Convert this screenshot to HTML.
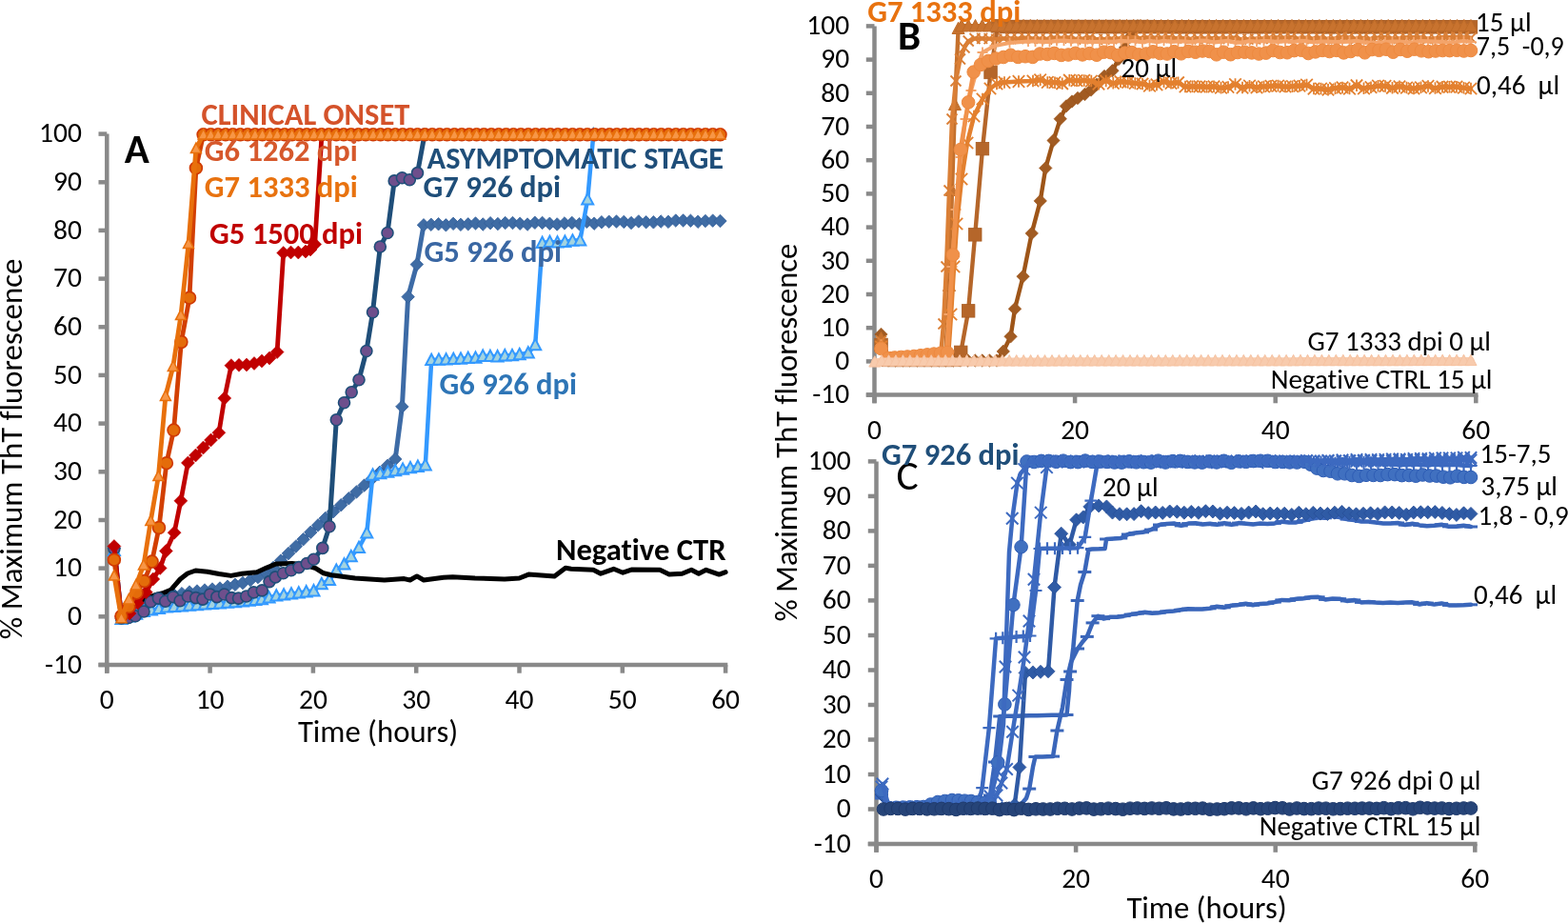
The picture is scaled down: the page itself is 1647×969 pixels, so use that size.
<!DOCTYPE html>
<html><head><meta charset="utf-8"><title>ThT fluorescence</title><style>html,body{margin:0;padding:0;background:#fff;overflow:hidden}svg{display:block}text{font-variant-ligatures:none;font-feature-settings:"liga" 0,"clig" 0}</style></head><body>
<svg width="1647" height="969" viewBox="0 0 1647 969" font-family="Carlito, 'Liberation Sans', Arial, sans-serif">
<rect width="1647" height="969" fill="#fff"/>
<line x1="112.3" y1="140.6" x2="112.3" y2="706.7" stroke="#898989" stroke-width="4.5"/>
<line x1="103.5" y1="698" x2="764.3" y2="698" stroke="#898989" stroke-width="4.5"/>
<line x1="103.5" y1="698" x2="112.3" y2="698" stroke="#898989" stroke-width="4.5"/>
<line x1="103.5" y1="647.3" x2="112.3" y2="647.3" stroke="#898989" stroke-width="4.5"/>
<line x1="103.5" y1="596.6" x2="112.3" y2="596.6" stroke="#898989" stroke-width="4.5"/>
<line x1="103.5" y1="546" x2="112.3" y2="546" stroke="#898989" stroke-width="4.5"/>
<line x1="103.5" y1="495.3" x2="112.3" y2="495.3" stroke="#898989" stroke-width="4.5"/>
<line x1="103.5" y1="444.6" x2="112.3" y2="444.6" stroke="#898989" stroke-width="4.5"/>
<line x1="103.5" y1="393.9" x2="112.3" y2="393.9" stroke="#898989" stroke-width="4.5"/>
<line x1="103.5" y1="343.3" x2="112.3" y2="343.3" stroke="#898989" stroke-width="4.5"/>
<line x1="103.5" y1="292.6" x2="112.3" y2="292.6" stroke="#898989" stroke-width="4.5"/>
<line x1="103.5" y1="241.9" x2="112.3" y2="241.9" stroke="#898989" stroke-width="4.5"/>
<line x1="103.5" y1="191.3" x2="112.3" y2="191.3" stroke="#898989" stroke-width="4.5"/>
<line x1="103.5" y1="140.6" x2="112.3" y2="140.6" stroke="#898989" stroke-width="4.5"/>
<line x1="112.3" y1="698" x2="112.3" y2="706.7" stroke="#898989" stroke-width="4.5"/>
<line x1="220.6" y1="698" x2="220.6" y2="706.7" stroke="#898989" stroke-width="4.5"/>
<line x1="328.9" y1="698" x2="328.9" y2="706.7" stroke="#898989" stroke-width="4.5"/>
<line x1="437.2" y1="698" x2="437.2" y2="706.7" stroke="#898989" stroke-width="4.5"/>
<line x1="545.5" y1="698" x2="545.5" y2="706.7" stroke="#898989" stroke-width="4.5"/>
<line x1="653.8" y1="698" x2="653.8" y2="706.7" stroke="#898989" stroke-width="4.5"/>
<line x1="762.1" y1="698" x2="762.1" y2="706.7" stroke="#898989" stroke-width="4.5"/>
<text textLength="38.94" lengthAdjust="spacingAndGlyphs" x="85.9" y="706.8" font-size="29.5" font-weight="normal" fill="#000" text-anchor="end" >-10</text>
<text textLength="14.95" lengthAdjust="spacingAndGlyphs" x="85.9" y="656.1" font-size="29.5" font-weight="normal" fill="#000" text-anchor="end" >0</text>
<text textLength="29.91" lengthAdjust="spacingAndGlyphs" x="85.9" y="605.4" font-size="29.5" font-weight="normal" fill="#000" text-anchor="end" >10</text>
<text textLength="29.91" lengthAdjust="spacingAndGlyphs" x="85.9" y="554.8" font-size="29.5" font-weight="normal" fill="#000" text-anchor="end" >20</text>
<text textLength="29.91" lengthAdjust="spacingAndGlyphs" x="85.9" y="504.1" font-size="29.5" font-weight="normal" fill="#000" text-anchor="end" >30</text>
<text textLength="29.91" lengthAdjust="spacingAndGlyphs" x="85.9" y="453.4" font-size="29.5" font-weight="normal" fill="#000" text-anchor="end" >40</text>
<text textLength="29.91" lengthAdjust="spacingAndGlyphs" x="85.9" y="402.7" font-size="29.5" font-weight="normal" fill="#000" text-anchor="end" >50</text>
<text textLength="29.91" lengthAdjust="spacingAndGlyphs" x="85.9" y="352.1" font-size="29.5" font-weight="normal" fill="#000" text-anchor="end" >60</text>
<text textLength="29.91" lengthAdjust="spacingAndGlyphs" x="85.9" y="301.4" font-size="29.5" font-weight="normal" fill="#000" text-anchor="end" >70</text>
<text textLength="29.91" lengthAdjust="spacingAndGlyphs" x="85.9" y="250.7" font-size="29.5" font-weight="normal" fill="#000" text-anchor="end" >80</text>
<text textLength="29.91" lengthAdjust="spacingAndGlyphs" x="85.9" y="200.1" font-size="29.5" font-weight="normal" fill="#000" text-anchor="end" >90</text>
<text textLength="44.86" lengthAdjust="spacingAndGlyphs" x="85.9" y="149.4" font-size="29.5" font-weight="normal" fill="#000" text-anchor="end" >100</text>
<text textLength="14.95" lengthAdjust="spacingAndGlyphs" x="112.3" y="743.8" font-size="29.5" font-weight="normal" fill="#000" text-anchor="middle" >0</text>
<text textLength="29.91" lengthAdjust="spacingAndGlyphs" x="220.6" y="743.8" font-size="29.5" font-weight="normal" fill="#000" text-anchor="middle" >10</text>
<text textLength="29.91" lengthAdjust="spacingAndGlyphs" x="328.9" y="743.8" font-size="29.5" font-weight="normal" fill="#000" text-anchor="middle" >20</text>
<text textLength="29.91" lengthAdjust="spacingAndGlyphs" x="437.2" y="743.8" font-size="29.5" font-weight="normal" fill="#000" text-anchor="middle" >30</text>
<text textLength="29.91" lengthAdjust="spacingAndGlyphs" x="545.5" y="743.8" font-size="29.5" font-weight="normal" fill="#000" text-anchor="middle" >40</text>
<text textLength="29.91" lengthAdjust="spacingAndGlyphs" x="653.8" y="743.8" font-size="29.5" font-weight="normal" fill="#000" text-anchor="middle" >50</text>
<text textLength="29.91" lengthAdjust="spacingAndGlyphs" x="762.1" y="743.8" font-size="29.5" font-weight="normal" fill="#000" text-anchor="middle" >60</text>
<line x1="918.5" y1="27.4" x2="918.5" y2="423.3" stroke="#898989" stroke-width="4.5"/>
<line x1="909.8" y1="414.6" x2="1552.5" y2="414.6" stroke="#898989" stroke-width="4.5"/>
<line x1="909.8" y1="414.6" x2="918.5" y2="414.6" stroke="#898989" stroke-width="4.5"/>
<line x1="909.8" y1="379.4" x2="918.5" y2="379.4" stroke="#898989" stroke-width="4.5"/>
<line x1="909.8" y1="344.2" x2="918.5" y2="344.2" stroke="#898989" stroke-width="4.5"/>
<line x1="909.8" y1="309" x2="918.5" y2="309" stroke="#898989" stroke-width="4.5"/>
<line x1="909.8" y1="273.8" x2="918.5" y2="273.8" stroke="#898989" stroke-width="4.5"/>
<line x1="909.8" y1="238.6" x2="918.5" y2="238.6" stroke="#898989" stroke-width="4.5"/>
<line x1="909.8" y1="203.4" x2="918.5" y2="203.4" stroke="#898989" stroke-width="4.5"/>
<line x1="909.8" y1="168.2" x2="918.5" y2="168.2" stroke="#898989" stroke-width="4.5"/>
<line x1="909.8" y1="133" x2="918.5" y2="133" stroke="#898989" stroke-width="4.5"/>
<line x1="909.8" y1="97.8" x2="918.5" y2="97.8" stroke="#898989" stroke-width="4.5"/>
<line x1="909.8" y1="62.6" x2="918.5" y2="62.6" stroke="#898989" stroke-width="4.5"/>
<line x1="909.8" y1="27.4" x2="918.5" y2="27.4" stroke="#898989" stroke-width="4.5"/>
<line x1="918.5" y1="414.6" x2="918.5" y2="423.3" stroke="#898989" stroke-width="4.5"/>
<line x1="1129.1" y1="414.6" x2="1129.1" y2="423.3" stroke="#898989" stroke-width="4.5"/>
<line x1="1339.7" y1="414.6" x2="1339.7" y2="423.3" stroke="#898989" stroke-width="4.5"/>
<line x1="1550.3" y1="414.6" x2="1550.3" y2="423.3" stroke="#898989" stroke-width="4.5"/>
<text textLength="38.94" lengthAdjust="spacingAndGlyphs" x="892.2" y="423.4" font-size="29.5" font-weight="normal" fill="#000" text-anchor="end" >-10</text>
<text textLength="14.95" lengthAdjust="spacingAndGlyphs" x="892.2" y="388.2" font-size="29.5" font-weight="normal" fill="#000" text-anchor="end" >0</text>
<text textLength="29.91" lengthAdjust="spacingAndGlyphs" x="892.2" y="353" font-size="29.5" font-weight="normal" fill="#000" text-anchor="end" >10</text>
<text textLength="29.91" lengthAdjust="spacingAndGlyphs" x="892.2" y="317.8" font-size="29.5" font-weight="normal" fill="#000" text-anchor="end" >20</text>
<text textLength="29.91" lengthAdjust="spacingAndGlyphs" x="892.2" y="282.6" font-size="29.5" font-weight="normal" fill="#000" text-anchor="end" >30</text>
<text textLength="29.91" lengthAdjust="spacingAndGlyphs" x="892.2" y="247.4" font-size="29.5" font-weight="normal" fill="#000" text-anchor="end" >40</text>
<text textLength="29.91" lengthAdjust="spacingAndGlyphs" x="892.2" y="212.2" font-size="29.5" font-weight="normal" fill="#000" text-anchor="end" >50</text>
<text textLength="29.91" lengthAdjust="spacingAndGlyphs" x="892.2" y="177" font-size="29.5" font-weight="normal" fill="#000" text-anchor="end" >60</text>
<text textLength="29.91" lengthAdjust="spacingAndGlyphs" x="892.2" y="141.8" font-size="29.5" font-weight="normal" fill="#000" text-anchor="end" >70</text>
<text textLength="29.91" lengthAdjust="spacingAndGlyphs" x="892.2" y="106.6" font-size="29.5" font-weight="normal" fill="#000" text-anchor="end" >80</text>
<text textLength="29.91" lengthAdjust="spacingAndGlyphs" x="892.2" y="71.4" font-size="29.5" font-weight="normal" fill="#000" text-anchor="end" >90</text>
<text textLength="44.86" lengthAdjust="spacingAndGlyphs" x="892.2" y="36.2" font-size="29.5" font-weight="normal" fill="#000" text-anchor="end" >100</text>
<text textLength="14.95" lengthAdjust="spacingAndGlyphs" x="918.5" y="460.5" font-size="29.5" font-weight="normal" fill="#000" text-anchor="middle" >0</text>
<text textLength="29.91" lengthAdjust="spacingAndGlyphs" x="1129.1" y="460.5" font-size="29.5" font-weight="normal" fill="#000" text-anchor="middle" >20</text>
<text textLength="29.91" lengthAdjust="spacingAndGlyphs" x="1339.7" y="460.5" font-size="29.5" font-weight="normal" fill="#000" text-anchor="middle" >40</text>
<text textLength="29.91" lengthAdjust="spacingAndGlyphs" x="1550.3" y="460.5" font-size="29.5" font-weight="normal" fill="#000" text-anchor="middle" >60</text>
<line x1="920.5" y1="484.4" x2="920.5" y2="894.8" stroke="#898989" stroke-width="4.5"/>
<line x1="911.8" y1="886" x2="1551.6" y2="886" stroke="#898989" stroke-width="4.5"/>
<line x1="911.8" y1="886" x2="920.5" y2="886" stroke="#898989" stroke-width="4.5"/>
<line x1="911.8" y1="849.5" x2="920.5" y2="849.5" stroke="#898989" stroke-width="4.5"/>
<line x1="911.8" y1="813" x2="920.5" y2="813" stroke="#898989" stroke-width="4.5"/>
<line x1="911.8" y1="776.5" x2="920.5" y2="776.5" stroke="#898989" stroke-width="4.5"/>
<line x1="911.8" y1="740" x2="920.5" y2="740" stroke="#898989" stroke-width="4.5"/>
<line x1="911.8" y1="703.5" x2="920.5" y2="703.5" stroke="#898989" stroke-width="4.5"/>
<line x1="911.8" y1="667" x2="920.5" y2="667" stroke="#898989" stroke-width="4.5"/>
<line x1="911.8" y1="630.4" x2="920.5" y2="630.4" stroke="#898989" stroke-width="4.5"/>
<line x1="911.8" y1="593.9" x2="920.5" y2="593.9" stroke="#898989" stroke-width="4.5"/>
<line x1="911.8" y1="557.4" x2="920.5" y2="557.4" stroke="#898989" stroke-width="4.5"/>
<line x1="911.8" y1="520.9" x2="920.5" y2="520.9" stroke="#898989" stroke-width="4.5"/>
<line x1="911.8" y1="484.4" x2="920.5" y2="484.4" stroke="#898989" stroke-width="4.5"/>
<line x1="920.5" y1="886" x2="920.5" y2="894.8" stroke="#898989" stroke-width="4.5"/>
<line x1="1130.1" y1="886" x2="1130.1" y2="894.8" stroke="#898989" stroke-width="4.5"/>
<line x1="1339.7" y1="886" x2="1339.7" y2="894.8" stroke="#898989" stroke-width="4.5"/>
<line x1="1549.3" y1="886" x2="1549.3" y2="894.8" stroke="#898989" stroke-width="4.5"/>
<text textLength="38.94" lengthAdjust="spacingAndGlyphs" x="893.7" y="894.8" font-size="29.5" font-weight="normal" fill="#000" text-anchor="end" >-10</text>
<text textLength="14.95" lengthAdjust="spacingAndGlyphs" x="893.7" y="858.3" font-size="29.5" font-weight="normal" fill="#000" text-anchor="end" >0</text>
<text textLength="29.91" lengthAdjust="spacingAndGlyphs" x="893.7" y="821.8" font-size="29.5" font-weight="normal" fill="#000" text-anchor="end" >10</text>
<text textLength="29.91" lengthAdjust="spacingAndGlyphs" x="893.7" y="785.3" font-size="29.5" font-weight="normal" fill="#000" text-anchor="end" >20</text>
<text textLength="29.91" lengthAdjust="spacingAndGlyphs" x="893.7" y="748.8" font-size="29.5" font-weight="normal" fill="#000" text-anchor="end" >30</text>
<text textLength="29.91" lengthAdjust="spacingAndGlyphs" x="893.7" y="712.3" font-size="29.5" font-weight="normal" fill="#000" text-anchor="end" >40</text>
<text textLength="29.91" lengthAdjust="spacingAndGlyphs" x="893.7" y="675.8" font-size="29.5" font-weight="normal" fill="#000" text-anchor="end" >50</text>
<text textLength="29.91" lengthAdjust="spacingAndGlyphs" x="893.7" y="639.2" font-size="29.5" font-weight="normal" fill="#000" text-anchor="end" >60</text>
<text textLength="29.91" lengthAdjust="spacingAndGlyphs" x="893.7" y="602.7" font-size="29.5" font-weight="normal" fill="#000" text-anchor="end" >70</text>
<text textLength="29.91" lengthAdjust="spacingAndGlyphs" x="893.7" y="566.2" font-size="29.5" font-weight="normal" fill="#000" text-anchor="end" >80</text>
<text textLength="29.91" lengthAdjust="spacingAndGlyphs" x="893.7" y="529.7" font-size="29.5" font-weight="normal" fill="#000" text-anchor="end" >90</text>
<text textLength="44.86" lengthAdjust="spacingAndGlyphs" x="893.7" y="493.2" font-size="29.5" font-weight="normal" fill="#000" text-anchor="end" >100</text>
<text textLength="14.95" lengthAdjust="spacingAndGlyphs" x="920.5" y="931.6" font-size="29.5" font-weight="normal" fill="#000" text-anchor="middle" >0</text>
<text textLength="29.91" lengthAdjust="spacingAndGlyphs" x="1130.1" y="931.6" font-size="29.5" font-weight="normal" fill="#000" text-anchor="middle" >20</text>
<text textLength="29.91" lengthAdjust="spacingAndGlyphs" x="1339.7" y="931.6" font-size="29.5" font-weight="normal" fill="#000" text-anchor="middle" >40</text>
<text textLength="29.91" lengthAdjust="spacingAndGlyphs" x="1549.3" y="931.6" font-size="29.5" font-weight="normal" fill="#000" text-anchor="middle" >60</text>
<polyline points="119.9,575.5 127.5,649 135,645 143,640.8 151,636.5 159,633.2 167,629.8 175,626.5 183,624.8 191,623.2 199,621.5 207,620.5 215,619.5 223,618.5 231,617.5 239,615.7 247,613.8 255,612 263,609 271,606 279,601 287,596 295,588.5 303,581 310.8,573.6 318.6,566.2 326.3,558.8 334.1,551.4 341.9,544 350,537.1 358.2,530.2 366.3,523.3 374.5,516.4 382.6,509.6 390.8,502.7 398.9,495.8 407.1,488.9 415.2,482 422.4,426.9 428.6,311.6 437.9,277.6 445,236.3 452.8,235.8 460.6,235.2 468.4,236.3 476.1,234.8 483.9,235.8 491.7,235.3 499.5,234.5 507.3,235.5 515.1,234.2 522.9,235.1 530.7,234.1 538.5,234 546.2,234.7 554,235.6 561.8,233.8 569.6,233.9 577.4,234.8 585.2,235.4 593,234.4 600.8,233.9 608.5,235.2 616.3,232.8 624.1,234.7 631.9,233.2 639.7,232.8 647.5,232.6 655.3,232.9 663,234 670.8,232.4 678.6,233.3 686.4,233.3 694.2,232.6 702,232.9 709.8,231.6 717.6,231.5 725.4,231.7 733.1,232.8 740.9,232 748.7,231.7 756.5,232" fill="none" stroke="#3D6BA6" stroke-width="5" stroke-linejoin="round" stroke-linecap="round" /><g fill="#3F6CA4" stroke="#335F9A" stroke-width="0.8" stroke-linejoin="miter"><path d="M119.9 568.8L126.7 575.5L119.9 582.2L113.2 575.5Z"/><path d="M127.5 642.2L134.2 649L127.5 655.8L120.8 649Z"/><path d="M135 638.2L141.8 645L135 651.8L128.2 645Z"/><path d="M143 634L149.8 640.8L143 647.5L136.2 640.8Z"/><path d="M151 629.8L157.8 636.5L151 643.2L144.2 636.5Z"/><path d="M159 626.4L165.8 633.2L159 639.9L152.2 633.2Z"/><path d="M167 623.1L173.8 629.8L167 636.6L160.2 629.8Z"/><path d="M175 619.8L181.8 626.5L175 633.2L168.2 626.5Z"/><path d="M183 618.1L189.8 624.8L183 631.6L176.2 624.8Z"/><path d="M191 616.4L197.8 623.2L191 629.9L184.2 623.2Z"/><path d="M199 614.8L205.8 621.5L199 628.2L192.2 621.5Z"/><path d="M207 613.8L213.8 620.5L207 627.2L200.2 620.5Z"/><path d="M215 612.8L221.8 619.5L215 626.2L208.2 619.5Z"/><path d="M223 611.8L229.8 618.5L223 625.2L216.2 618.5Z"/><path d="M231 610.8L237.8 617.5L231 624.2L224.2 617.5Z"/><path d="M239 608.9L245.8 615.7L239 622.4L232.2 615.7Z"/><path d="M247 607.1L253.8 613.8L247 620.6L240.2 613.8Z"/><path d="M255 605.2L261.8 612L255 618.8L248.2 612Z"/><path d="M263 602.2L269.8 609L263 615.8L256.2 609Z"/><path d="M271 599.2L277.8 606L271 612.8L264.2 606Z"/><path d="M279 594.2L285.8 601L279 607.8L272.2 601Z"/><path d="M287 589.2L293.8 596L287 602.8L280.2 596Z"/><path d="M295 581.8L301.8 588.5L295 595.2L288.2 588.5Z"/><path d="M303 574.2L309.8 581L303 587.8L296.2 581Z"/><path d="M310.8 566.9L317.5 573.6L310.8 580.4L304 573.6Z"/><path d="M318.6 559.5L325.3 566.2L318.6 573L311.8 566.2Z"/><path d="M326.3 552L333.1 558.8L326.3 565.5L319.6 558.8Z"/><path d="M334.1 544.6L340.9 551.4L334.1 558.1L327.4 551.4Z"/><path d="M341.9 537.2L348.6 544L341.9 550.8L335.1 544Z"/><path d="M350 530.4L356.8 537.1L350 543.9L343.3 537.1Z"/><path d="M358.2 523.5L364.9 530.2L358.2 537L351.4 530.2Z"/><path d="M366.3 516.6L373.1 523.3L366.3 530.1L359.6 523.3Z"/><path d="M374.5 509.7L381.2 516.4L374.5 523.2L367.7 516.4Z"/><path d="M382.6 502.8L389.4 509.6L382.6 516.3L375.9 509.6Z"/><path d="M390.8 495.9L397.5 502.7L390.8 509.4L384 502.7Z"/><path d="M398.9 489L405.7 495.8L398.9 502.5L392.2 495.8Z"/><path d="M407.1 482.1L413.8 488.9L407.1 495.6L400.3 488.9Z"/><path d="M415.2 475.2L421.9 482L415.2 488.8L408.4 482Z"/><path d="M422.4 420.1L429.1 426.9L422.4 433.6L415.6 426.9Z"/><path d="M428.6 304.9L435.4 311.6L428.6 318.4L421.9 311.6Z"/><path d="M437.9 270.9L444.6 277.6L437.9 284.4L431.1 277.6Z"/><path d="M445 229.6L451.8 236.3L445 243.1L438.2 236.3Z"/><path d="M452.8 229L459.5 235.8L452.8 242.5L446 235.8Z"/><path d="M460.6 228.5L467.3 235.2L460.6 242L453.8 235.2Z"/><path d="M468.4 229.6L475.1 236.3L468.4 243.1L461.6 236.3Z"/><path d="M476.1 228.1L482.9 234.8L476.1 241.6L469.4 234.8Z"/><path d="M483.9 229.1L490.7 235.8L483.9 242.6L477.2 235.8Z"/><path d="M491.7 228.6L498.5 235.3L491.7 242.1L485 235.3Z"/><path d="M499.5 227.7L506.3 234.5L499.5 241.2L492.8 234.5Z"/><path d="M507.3 228.7L514 235.5L507.3 242.2L500.6 235.5Z"/><path d="M515.1 227.5L521.8 234.2L515.1 241L508.3 234.2Z"/><path d="M522.9 228.3L529.6 235.1L522.9 241.8L516.1 235.1Z"/><path d="M530.7 227.3L537.4 234.1L530.7 240.8L523.9 234.1Z"/><path d="M538.5 227.3L545.2 234L538.5 240.8L531.7 234Z"/><path d="M546.2 228L553 234.7L546.2 241.5L539.5 234.7Z"/><path d="M554 228.8L560.8 235.6L554 242.3L547.3 235.6Z"/><path d="M561.8 227L568.6 233.8L561.8 240.5L555.1 233.8Z"/><path d="M569.6 227.2L576.4 233.9L569.6 240.7L562.9 233.9Z"/><path d="M577.4 228L584.1 234.8L577.4 241.5L570.6 234.8Z"/><path d="M585.2 228.7L591.9 235.4L585.2 242.2L578.4 235.4Z"/><path d="M593 227.7L599.7 234.4L593 241.2L586.2 234.4Z"/><path d="M600.8 227.2L607.5 233.9L600.8 240.7L594 233.9Z"/><path d="M608.5 228.4L615.3 235.2L608.5 241.9L601.8 235.2Z"/><path d="M616.3 226.1L623.1 232.8L616.3 239.6L609.6 232.8Z"/><path d="M624.1 227.9L630.9 234.7L624.1 241.4L617.4 234.7Z"/><path d="M631.9 226.5L638.6 233.2L631.9 240L625.1 233.2Z"/><path d="M639.7 226L646.4 232.8L639.7 239.5L632.9 232.8Z"/><path d="M647.5 225.8L654.2 232.6L647.5 239.3L640.7 232.6Z"/><path d="M655.3 226.2L662 232.9L655.3 239.7L648.5 232.9Z"/><path d="M663 227.3L669.8 234L663 240.8L656.3 234Z"/><path d="M670.8 225.7L677.6 232.4L670.8 239.2L664.1 232.4Z"/><path d="M678.6 226.5L685.4 233.3L678.6 240L671.9 233.3Z"/><path d="M686.4 226.6L693.2 233.3L686.4 240.1L679.7 233.3Z"/><path d="M694.2 225.8L701 232.6L694.2 239.3L687.5 232.6Z"/><path d="M702 226.1L708.7 232.9L702 239.6L695.2 232.9Z"/><path d="M709.8 224.8L716.5 231.6L709.8 238.3L703 231.6Z"/><path d="M717.6 224.7L724.3 231.5L717.6 238.2L710.8 231.5Z"/><path d="M725.4 225L732.1 231.7L725.4 238.5L718.6 231.7Z"/><path d="M733.1 226L739.9 232.8L733.1 239.5L726.4 232.8Z"/><path d="M740.9 225.3L747.7 232L740.9 238.8L734.2 232Z"/><path d="M748.7 224.9L755.5 231.7L748.7 238.4L742 231.7Z"/><path d="M756.5 225.2L763.2 232L756.5 238.8L749.8 232Z"/></g>
<polyline points="119.9,578 127.5,650 135.3,647.3 143.2,644.7 151,642 159,640.5 167,639 175,637.5 183,636.9 191,636.3 199,635.7 207,635.1 215,634.5 223,633.9 231,633.3 239,632.7 247,632.1 255,631.5 261.7,630.7 268.3,630 275,629.2 282.6,627.4 290.3,625.5 298.1,624.5 306,623.4 313.8,622.4 321.7,621.3 329.5,620.3 337.8,613.1 346,609 353.3,598.7 361.5,592.5 368.8,584.2 377,575 385.3,559.5 391.5,498.6 399.4,497.1 407.3,495.7 415.2,494.2 423.1,492.7 431,491.2 438.9,489.8 446.8,488.3 453.2,378 460.9,377.7 468.6,377.4 476.3,377 484,376.7 491.7,375.9 499.5,375.7 507.2,373.8 514.9,374 522.6,374.3 530.3,373.3 538,373.2 545.7,372.1 554.8,370.5 562.2,362.2 569.6,255 577.5,254 585.5,254.4 593.4,253.8 601.4,252.6 609.3,252.4 617.2,209.4 623.3,141.3 631.1,141.3 639,141.3 646.8,141.3 654.6,141.3 662.5,141.3 670.3,141.3 678.1,141.3 686,141.3 693.8,141.3 701.7,141.3 709.5,141.3 717.3,141.3 725.2,141.3 733,141.3 740.8,141.3 748.7,141.3 756.5,141.3" fill="none" stroke="#3399FF" stroke-width="4.5" stroke-linejoin="round" stroke-linecap="round" /><g fill="#A2D3E0" stroke="#3399FF" stroke-width="2" stroke-linejoin="miter"><path d="M119.9 571.7L125.9 583.1H113.9Z"/><path d="M127.5 643.7L133.5 655.1H121.5Z"/><path d="M135.3 641L141.3 652.4H129.3Z"/><path d="M143.2 638.4L149.2 649.8H137.2Z"/><path d="M151 635.7L157 647.1H145Z"/><path d="M159 634.2L165 645.6H153Z"/><path d="M167 632.7L173 644.1H161Z"/><path d="M175 631.2L181 642.6H169Z"/><path d="M183 630.6L189 642H177Z"/><path d="M191 630L197 641.4H185Z"/><path d="M199 629.4L205 640.8H193Z"/><path d="M207 628.8L213 640.2H201Z"/><path d="M215 628.2L221 639.6H209Z"/><path d="M223 627.6L229 639H217Z"/><path d="M231 627L237 638.4H225Z"/><path d="M239 626.4L245 637.8H233Z"/><path d="M247 625.8L253 637.2H241Z"/><path d="M255 625.2L261 636.6H249Z"/><path d="M261.7 624.4L267.7 635.8H255.7Z"/><path d="M268.3 623.7L274.3 635.1H262.3Z"/><path d="M275 622.9L281 634.3H269Z"/><path d="M282.6 621.1L288.6 632.5H276.6Z"/><path d="M290.3 619.2L296.3 630.6H284.3Z"/><path d="M298.1 618.2L304.1 629.6H292.1Z"/><path d="M306 617.1L312 628.5H300Z"/><path d="M313.8 616.1L319.8 627.5H307.8Z"/><path d="M321.7 615L327.7 626.4H315.7Z"/><path d="M329.5 614L335.5 625.4H323.5Z"/><path d="M337.8 606.8L343.8 618.2H331.8Z"/><path d="M346 602.7L352 614.1H340Z"/><path d="M353.3 592.4L359.3 603.8H347.3Z"/><path d="M361.5 586.2L367.5 597.6H355.5Z"/><path d="M368.8 577.9L374.8 589.3H362.8Z"/><path d="M377 568.7L383 580.1H371Z"/><path d="M385.3 553.2L391.3 564.6H379.3Z"/><path d="M391.5 492.3L397.5 503.7H385.5Z"/><path d="M399.4 490.8L405.4 502.2H393.4Z"/><path d="M407.3 489.4L413.3 500.8H401.3Z"/><path d="M415.2 487.9L421.2 499.3H409.2Z"/><path d="M423.1 486.4L429.1 497.8H417.1Z"/><path d="M431 484.9L437 496.3H425Z"/><path d="M438.9 483.5L444.9 494.9H432.9Z"/><path d="M446.8 482L452.8 493.4H440.8Z"/><path d="M453.2 371.7L459.2 383.1H447.2Z"/><path d="M460.9 371.4L466.9 382.8H454.9Z"/><path d="M468.6 371.1L474.6 382.5H462.6Z"/><path d="M476.3 370.7L482.3 382.1H470.3Z"/><path d="M484 370.4L490 381.8H478Z"/><path d="M491.7 369.6L497.7 381H485.7Z"/><path d="M499.5 369.4L505.5 380.8H493.5Z"/><path d="M507.2 367.5L513.2 378.9H501.2Z"/><path d="M514.9 367.7L520.9 379.1H508.9Z"/><path d="M522.6 368L528.6 379.4H516.6Z"/><path d="M530.3 367L536.3 378.4H524.3Z"/><path d="M538 366.9L544 378.3H532Z"/><path d="M545.7 365.8L551.7 377.2H539.7Z"/><path d="M554.8 364.2L560.8 375.6H548.8Z"/><path d="M562.2 355.9L568.2 367.3H556.2Z"/><path d="M569.6 248.7L575.6 260.1H563.6Z"/><path d="M577.5 247.7L583.5 259.1H571.5Z"/><path d="M585.5 248.1L591.5 259.5H579.5Z"/><path d="M593.4 247.5L599.4 258.9H587.4Z"/><path d="M601.4 246.3L607.4 257.7H595.4Z"/><path d="M609.3 246.1L615.3 257.5H603.3Z"/><path d="M617.2 203.1L623.2 214.5H611.2Z"/><path d="M623.3 135L629.3 146.4H617.3Z"/></g>
<polyline points="127.5,645 135,640 150.9,629 162,625 172,622.4 179.4,619.3 189.3,608 197,602 205.4,599 218,600.2 230,602.5 242.6,604.4 254.2,602.3 269.8,600.8 280,596.1 290,592 306.8,591.5 320,593 331.6,596.6 339.9,601.8 348.1,603.8 372.9,606.9 403.8,609 424.5,607.6 430.7,609 437.9,604.9 445.1,609 465.8,606.3 475.5,605.7 498.9,607 530,608 545.5,607 555.2,603.1 582.4,605.1 594,596.3 599.9,597.3 623.2,598.3 631,602.2 644.6,597.3 654.3,601.2 664,597.9 693.1,598.3 702.9,603.1 716.5,602.2 726.2,598.3 733.9,602.2 741.7,598.3 755.3,603.1 762.1,600.6" fill="none" stroke="#000000" stroke-width="5" stroke-linejoin="round" stroke-linecap="round" />
<polyline points="119.9,576 127.5,649 135,648.5 142.2,646.7 151,642 158.2,631.7 166.4,628.1 173.7,631.2 181.9,626.6 189.1,630.7 197.4,626 205.7,627.6 212.9,629.1 220.6,624 227.8,626.6 235.6,624 243.3,627.6 250.5,628.1 258.8,626 266.5,621.9 275.3,619.9 283,610.6 289.3,605.9 297.5,601.8 305.8,598.7 314,595.6 322.3,591.5 329.5,587.3 338.8,575.4 346,552.7 353.3,440.7 361.5,422.8 369.2,411.8 377,398.8 384.9,368.5 391.5,327.8 399.3,259 407,244.5 414.2,189.9 422.4,186.8 430.3,188.8 438.5,181.6 446,141.3 453.8,141.3 461.5,141.3 469.3,141.3 477.1,141.3 484.8,141.3 492.6,141.3 500.3,141.3 508.1,141.3 515.9,141.3 523.6,141.3 531.4,141.3 539.1,141.3 546.9,141.3 554.7,141.3 562.4,141.3 570.2,141.3 578,141.3 585.7,141.3 593.5,141.3 601.2,141.3 609,141.3 616.8,141.3 624.5,141.3 632.3,141.3 640.1,141.3 647.8,141.3 655.6,141.3 663.4,141.3 671.1,141.3 678.9,141.3 686.6,141.3 694.4,141.3 702.2,141.3 709.9,141.3 717.7,141.3 725.5,141.3 733.2,141.3 741,141.3 748.7,141.3 756.5,141.3" fill="none" stroke="#1F4E79" stroke-width="5" stroke-linejoin="round" stroke-linecap="round" /><g fill="#6E4F8C" stroke="#1F4E79" stroke-width="1.6" stroke-linejoin="miter"><circle cx="119.9" cy="576" r="6"/><circle cx="127.5" cy="649" r="6"/><circle cx="135" cy="648.5" r="6"/><circle cx="142.2" cy="646.7" r="6"/><circle cx="151" cy="642" r="6"/><circle cx="158.2" cy="631.7" r="6"/><circle cx="166.4" cy="628.1" r="6"/><circle cx="173.7" cy="631.2" r="6"/><circle cx="181.9" cy="626.6" r="6"/><circle cx="189.1" cy="630.7" r="6"/><circle cx="197.4" cy="626" r="6"/><circle cx="205.7" cy="627.6" r="6"/><circle cx="212.9" cy="629.1" r="6"/><circle cx="220.6" cy="624" r="6"/><circle cx="227.8" cy="626.6" r="6"/><circle cx="235.6" cy="624" r="6"/><circle cx="243.3" cy="627.6" r="6"/><circle cx="250.5" cy="628.1" r="6"/><circle cx="258.8" cy="626" r="6"/><circle cx="266.5" cy="621.9" r="6"/><circle cx="275.3" cy="619.9" r="6"/><circle cx="283" cy="610.6" r="6"/><circle cx="289.3" cy="605.9" r="6"/><circle cx="297.5" cy="601.8" r="6"/><circle cx="305.8" cy="598.7" r="6"/><circle cx="314" cy="595.6" r="6"/><circle cx="322.3" cy="591.5" r="6"/><circle cx="329.5" cy="587.3" r="6"/><circle cx="338.8" cy="575.4" r="6"/><circle cx="346" cy="552.7" r="6"/><circle cx="353.3" cy="440.7" r="6"/><circle cx="361.5" cy="422.8" r="6"/><circle cx="369.2" cy="411.8" r="6"/><circle cx="377" cy="398.8" r="6"/><circle cx="384.9" cy="368.5" r="6"/><circle cx="391.5" cy="327.8" r="6"/><circle cx="399.3" cy="259" r="6"/><circle cx="407" cy="244.5" r="6"/><circle cx="414.2" cy="189.9" r="6"/><circle cx="422.4" cy="186.8" r="6"/><circle cx="430.3" cy="188.8" r="6"/><circle cx="438.5" cy="181.6" r="6"/><circle cx="446" cy="141.3" r="6"/></g>
<polyline points="119.9,573.5 127.5,647 136,644 144.5,633 153.4,621.8 160.8,608 168.2,596.4 174.4,578.4 183.1,559.2 189.9,525.8 197.4,485.9 205.5,478 213.5,470 221.5,462 229.9,454.3 235.8,418.1 242.9,383.7 251,383.3 259,383 267,381.5 275,379 283,376 291.1,369.6 297.7,265.6 305.5,265 313.3,265 321,264 326,262 330.7,256.5 338,141.3 345.8,141.3 353.5,141.3 361.2,141.3 369,141.3 376.8,141.3 384.5,141.3 392.2,141.3 400,141.3 407.8,141.3 415.5,141.3 423.2,141.3 431,141.3 438.8,141.3 446.5,141.3 454.2,141.3 462,141.3 469.8,141.3 477.5,141.3 485.2,141.3 493,141.3 500.8,141.3 508.5,141.3 516.2,141.3 524,141.3 531.8,141.3 539.5,141.3 547.2,141.3 555,141.3 562.8,141.3 570.5,141.3 578.2,141.3 586,141.3 593.8,141.3 601.5,141.3 609.2,141.3 617,141.3 624.8,141.3 632.5,141.3 640.2,141.3 648,141.3 655.8,141.3 663.5,141.3 671.2,141.3 679,141.3 686.8,141.3 694.5,141.3 702.2,141.3 710,141.3 717.8,141.3 725.5,141.3 733.2,141.3 741,141.3 748.8,141.3 756.5,141.3" fill="none" stroke="#C00000" stroke-width="4.8" stroke-linejoin="round" stroke-linecap="round" /><g fill="#C00000" stroke="#C00000" stroke-width="0.5" stroke-linejoin="miter"><path d="M119.9 566.5L126.9 573.5L119.9 580.5L112.9 573.5Z"/><path d="M127.5 640L134.5 647L127.5 654L120.5 647Z"/><path d="M136 637L143 644L136 651L129 644Z"/><path d="M144.5 626L151.5 633L144.5 640L137.5 633Z"/><path d="M153.4 614.8L160.4 621.8L153.4 628.8L146.4 621.8Z"/><path d="M160.8 601L167.8 608L160.8 615L153.8 608Z"/><path d="M168.2 589.4L175.2 596.4L168.2 603.4L161.2 596.4Z"/><path d="M174.4 571.4L181.4 578.4L174.4 585.4L167.4 578.4Z"/><path d="M183.1 552.2L190.1 559.2L183.1 566.2L176.1 559.2Z"/><path d="M189.9 518.8L196.9 525.8L189.9 532.8L182.9 525.8Z"/><path d="M197.4 478.9L204.4 485.9L197.4 492.9L190.4 485.9Z"/><path d="M205.5 471L212.5 478L205.5 485L198.5 478Z"/><path d="M213.5 463L220.5 470L213.5 477L206.5 470Z"/><path d="M221.5 455L228.5 462L221.5 469L214.5 462Z"/><path d="M229.9 447.3L236.9 454.3L229.9 461.3L222.9 454.3Z"/><path d="M235.8 411.1L242.8 418.1L235.8 425.1L228.8 418.1Z"/><path d="M242.9 376.7L249.9 383.7L242.9 390.7L235.9 383.7Z"/><path d="M251 376.3L258 383.3L251 390.3L244 383.3Z"/><path d="M259 376L266 383L259 390L252 383Z"/><path d="M267 374.5L274 381.5L267 388.5L260 381.5Z"/><path d="M275 372L282 379L275 386L268 379Z"/><path d="M283 369L290 376L283 383L276 376Z"/><path d="M291.1 362.6L298.1 369.6L291.1 376.6L284.1 369.6Z"/><path d="M297.7 258.6L304.7 265.6L297.7 272.6L290.7 265.6Z"/><path d="M305.5 258L312.5 265L305.5 272L298.5 265Z"/><path d="M313.3 258L320.3 265L313.3 272L306.3 265Z"/><path d="M321 257L328 264L321 271L314 264Z"/><path d="M326 255L333 262L326 269L319 262Z"/><path d="M330.7 249.5L337.7 256.5L330.7 263.5L323.7 256.5Z"/><path d="M338 134.3L345 141.3L338 148.3L331 141.3Z"/></g>
<polyline points="119.9,587.7 127.5,647 135.4,637 143.5,622.4 151.5,610 159.6,589.6 167,554 174.9,486.2 182.5,451.6 190.4,359 199,312.7 205.9,176.4 213.6,141.3 221.4,141.3 229.1,141.3 236.9,141.3 244.6,141.3 252.4,141.3 260.1,141.3 267.9,141.3 275.6,141.3 283.4,141.3 291.2,141.3 298.9,141.3 306.7,141.3 314.4,141.3 322.2,141.3 329.9,141.3 337.7,141.3 345.4,141.3 353.2,141.3 361,141.3 368.7,141.3 376.5,141.3 384.2,141.3 392,141.3 399.7,141.3 407.5,141.3 415.2,141.3 423,141.3 430.8,141.3 438.5,141.3 446.3,141.3 454,141.3 461.8,141.3 469.5,141.3 477.3,141.3 485,141.3 492.8,141.3 500.6,141.3 508.3,141.3 516.1,141.3 523.8,141.3 531.6,141.3 539.3,141.3 547.1,141.3 554.9,141.3 562.6,141.3 570.4,141.3 578.1,141.3 585.9,141.3 593.6,141.3 601.4,141.3 609.1,141.3 616.9,141.3 624.7,141.3 632.4,141.3 640.2,141.3 647.9,141.3 655.7,141.3 663.4,141.3 671.2,141.3 678.9,141.3 686.7,141.3 694.5,141.3 702.2,141.3 710,141.3 717.7,141.3 725.5,141.3 733.2,141.3 741,141.3 748.7,141.3 756.5,141.3" fill="none" stroke="#D23F02" stroke-width="4.8" stroke-linejoin="round" stroke-linecap="round" /><g fill="#E46C0A" stroke="#D03A02" stroke-width="1.7" stroke-linejoin="miter"><circle cx="119.9" cy="587.7" r="6.4"/><circle cx="127.5" cy="647" r="6.4"/><circle cx="135.4" cy="637" r="6.4"/><circle cx="143.5" cy="622.4" r="6.4"/><circle cx="151.5" cy="610" r="6.4"/><circle cx="159.6" cy="589.6" r="6.4"/><circle cx="167" cy="554" r="6.4"/><circle cx="174.9" cy="486.2" r="6.4"/><circle cx="182.5" cy="451.6" r="6.4"/><circle cx="190.4" cy="359" r="6.4"/><circle cx="199" cy="312.7" r="6.4"/><circle cx="205.9" cy="176.4" r="6.4"/><circle cx="213.6" cy="141.3" r="6.4"/><circle cx="221.4" cy="141.3" r="6.4"/><circle cx="229.1" cy="141.3" r="6.4"/><circle cx="236.9" cy="141.3" r="6.4"/><circle cx="244.6" cy="141.3" r="6.4"/><circle cx="252.4" cy="141.3" r="6.4"/><circle cx="260.1" cy="141.3" r="6.4"/><circle cx="267.9" cy="141.3" r="6.4"/><circle cx="275.6" cy="141.3" r="6.4"/><circle cx="283.4" cy="141.3" r="6.4"/><circle cx="291.2" cy="141.3" r="6.4"/><circle cx="298.9" cy="141.3" r="6.4"/><circle cx="306.7" cy="141.3" r="6.4"/><circle cx="314.4" cy="141.3" r="6.4"/><circle cx="322.2" cy="141.3" r="6.4"/><circle cx="329.9" cy="141.3" r="6.4"/><circle cx="337.7" cy="141.3" r="6.4"/><circle cx="345.4" cy="141.3" r="6.4"/><circle cx="353.2" cy="141.3" r="6.4"/><circle cx="361" cy="141.3" r="6.4"/><circle cx="368.7" cy="141.3" r="6.4"/><circle cx="376.5" cy="141.3" r="6.4"/><circle cx="384.2" cy="141.3" r="6.4"/><circle cx="392" cy="141.3" r="6.4"/><circle cx="399.7" cy="141.3" r="6.4"/><circle cx="407.5" cy="141.3" r="6.4"/><circle cx="415.2" cy="141.3" r="6.4"/><circle cx="423" cy="141.3" r="6.4"/><circle cx="430.8" cy="141.3" r="6.4"/><circle cx="438.5" cy="141.3" r="6.4"/><circle cx="446.3" cy="141.3" r="6.4"/><circle cx="454" cy="141.3" r="6.4"/><circle cx="461.8" cy="141.3" r="6.4"/><circle cx="469.5" cy="141.3" r="6.4"/><circle cx="477.3" cy="141.3" r="6.4"/><circle cx="485" cy="141.3" r="6.4"/><circle cx="492.8" cy="141.3" r="6.4"/><circle cx="500.6" cy="141.3" r="6.4"/><circle cx="508.3" cy="141.3" r="6.4"/><circle cx="516.1" cy="141.3" r="6.4"/><circle cx="523.8" cy="141.3" r="6.4"/><circle cx="531.6" cy="141.3" r="6.4"/><circle cx="539.3" cy="141.3" r="6.4"/><circle cx="547.1" cy="141.3" r="6.4"/><circle cx="554.9" cy="141.3" r="6.4"/><circle cx="562.6" cy="141.3" r="6.4"/><circle cx="570.4" cy="141.3" r="6.4"/><circle cx="578.1" cy="141.3" r="6.4"/><circle cx="585.9" cy="141.3" r="6.4"/><circle cx="593.6" cy="141.3" r="6.4"/><circle cx="601.4" cy="141.3" r="6.4"/><circle cx="609.1" cy="141.3" r="6.4"/><circle cx="616.9" cy="141.3" r="6.4"/><circle cx="624.7" cy="141.3" r="6.4"/><circle cx="632.4" cy="141.3" r="6.4"/><circle cx="640.2" cy="141.3" r="6.4"/><circle cx="647.9" cy="141.3" r="6.4"/><circle cx="655.7" cy="141.3" r="6.4"/><circle cx="663.4" cy="141.3" r="6.4"/><circle cx="671.2" cy="141.3" r="6.4"/><circle cx="678.9" cy="141.3" r="6.4"/><circle cx="686.7" cy="141.3" r="6.4"/><circle cx="694.5" cy="141.3" r="6.4"/><circle cx="702.2" cy="141.3" r="6.4"/><circle cx="710" cy="141.3" r="6.4"/><circle cx="717.7" cy="141.3" r="6.4"/><circle cx="725.5" cy="141.3" r="6.4"/><circle cx="733.2" cy="141.3" r="6.4"/><circle cx="741" cy="141.3" r="6.4"/><circle cx="748.7" cy="141.3" r="6.4"/><circle cx="756.5" cy="141.3" r="6.4"/></g>
<polyline points="119.9,604.4 127.5,649 135.4,629.2 142.8,614.3 150.9,593.3 158.3,546.9 166.4,499.9 173.9,415.7 181.8,384.8 190,330.9 198,255.9 205.9,155.9 213.6,141.3 221.4,141.3 229.1,141.3 236.9,141.3 244.6,141.3 252.4,141.3 260.1,141.3 267.9,141.3 275.6,141.3 283.4,141.3 291.2,141.3 298.9,141.3 306.7,141.3 314.4,141.3 322.2,141.3 329.9,141.3 337.7,141.3 345.4,141.3 353.2,141.3 361,141.3 368.7,141.3 376.5,141.3 384.2,141.3 392,141.3 399.7,141.3 407.5,141.3 415.2,141.3 423,141.3 430.8,141.3 438.5,141.3 446.3,141.3 454,141.3 461.8,141.3 469.5,141.3 477.3,141.3 485,141.3 492.8,141.3 500.6,141.3 508.3,141.3 516.1,141.3 523.8,141.3 531.6,141.3 539.3,141.3 547.1,141.3 554.9,141.3 562.6,141.3 570.4,141.3 578.1,141.3 585.9,141.3 593.6,141.3 601.4,141.3 609.1,141.3 616.9,141.3 624.7,141.3 632.4,141.3 640.2,141.3 647.9,141.3 655.7,141.3 663.4,141.3 671.2,141.3 678.9,141.3 686.7,141.3 694.5,141.3 702.2,141.3 710,141.3 717.7,141.3 725.5,141.3 733.2,141.3 741,141.3 748.7,141.3 756.5,141.3" fill="none" stroke="#E8700C" stroke-width="4.8" stroke-linejoin="round" stroke-linecap="round" /><g fill="#F79646" stroke="#E8700C" stroke-width="1.5" stroke-linejoin="miter"><path d="M119.9 598.6L125.4 609.1H114.4Z"/><path d="M127.5 643.2L133 653.7H122Z"/><path d="M135.4 623.4L140.9 633.9H129.9Z"/><path d="M142.8 608.5L148.3 619H137.3Z"/><path d="M150.9 587.5L156.4 598H145.4Z"/><path d="M158.3 541.1L163.8 551.6H152.8Z"/><path d="M166.4 494.1L171.9 504.6H160.9Z"/><path d="M173.9 409.9L179.4 420.4H168.4Z"/><path d="M181.8 379L187.3 389.5H176.3Z"/><path d="M190 325.1L195.5 335.6H184.5Z"/><path d="M198 250.1L203.5 260.6H192.5Z"/><path d="M205.9 150.1L211.4 160.6H200.4Z"/><path d="M213.6 135.5L219.1 146H208.1Z"/><path d="M221.4 135.5L226.9 146H215.9Z"/><path d="M229.1 135.5L234.6 146H223.6Z"/><path d="M236.9 135.5L242.4 146H231.4Z"/><path d="M244.6 135.5L250.1 146H239.1Z"/><path d="M252.4 135.5L257.9 146H246.9Z"/><path d="M260.1 135.5L265.6 146H254.6Z"/><path d="M267.9 135.5L273.4 146H262.4Z"/><path d="M275.6 135.5L281.1 146H270.1Z"/><path d="M283.4 135.5L288.9 146H277.9Z"/><path d="M291.2 135.5L296.7 146H285.7Z"/><path d="M298.9 135.5L304.4 146H293.4Z"/><path d="M306.7 135.5L312.2 146H301.2Z"/><path d="M314.4 135.5L319.9 146H308.9Z"/><path d="M322.2 135.5L327.7 146H316.7Z"/><path d="M329.9 135.5L335.4 146H324.4Z"/><path d="M337.7 135.5L343.2 146H332.2Z"/><path d="M345.4 135.5L350.9 146H339.9Z"/><path d="M353.2 135.5L358.7 146H347.7Z"/><path d="M361 135.5L366.5 146H355.5Z"/><path d="M368.7 135.5L374.2 146H363.2Z"/><path d="M376.5 135.5L382 146H371Z"/><path d="M384.2 135.5L389.7 146H378.7Z"/><path d="M392 135.5L397.5 146H386.5Z"/><path d="M399.7 135.5L405.2 146H394.2Z"/><path d="M407.5 135.5L413 146H402Z"/><path d="M415.2 135.5L420.7 146H409.7Z"/><path d="M423 135.5L428.5 146H417.5Z"/><path d="M430.8 135.5L436.3 146H425.3Z"/><path d="M438.5 135.5L444 146H433Z"/><path d="M446.3 135.5L451.8 146H440.8Z"/><path d="M454 135.5L459.5 146H448.5Z"/><path d="M461.8 135.5L467.3 146H456.3Z"/><path d="M469.5 135.5L475 146H464Z"/><path d="M477.3 135.5L482.8 146H471.8Z"/><path d="M485 135.5L490.5 146H479.5Z"/><path d="M492.8 135.5L498.3 146H487.3Z"/><path d="M500.6 135.5L506.1 146H495.1Z"/><path d="M508.3 135.5L513.8 146H502.8Z"/><path d="M516.1 135.5L521.6 146H510.6Z"/><path d="M523.8 135.5L529.3 146H518.3Z"/><path d="M531.6 135.5L537.1 146H526.1Z"/><path d="M539.3 135.5L544.8 146H533.8Z"/><path d="M547.1 135.5L552.6 146H541.6Z"/><path d="M554.9 135.5L560.4 146H549.4Z"/><path d="M562.6 135.5L568.1 146H557.1Z"/><path d="M570.4 135.5L575.9 146H564.9Z"/><path d="M578.1 135.5L583.6 146H572.6Z"/><path d="M585.9 135.5L591.4 146H580.4Z"/><path d="M593.6 135.5L599.1 146H588.1Z"/><path d="M601.4 135.5L606.9 146H595.9Z"/><path d="M609.1 135.5L614.6 146H603.6Z"/><path d="M616.9 135.5L622.4 146H611.4Z"/><path d="M624.7 135.5L630.2 146H619.2Z"/><path d="M632.4 135.5L637.9 146H626.9Z"/><path d="M640.2 135.5L645.7 146H634.7Z"/><path d="M647.9 135.5L653.4 146H642.4Z"/><path d="M655.7 135.5L661.2 146H650.2Z"/><path d="M663.4 135.5L668.9 146H657.9Z"/><path d="M671.2 135.5L676.7 146H665.7Z"/><path d="M678.9 135.5L684.4 146H673.4Z"/><path d="M686.7 135.5L692.2 146H681.2Z"/><path d="M694.5 135.5L700 146H689Z"/><path d="M702.2 135.5L707.7 146H696.7Z"/><path d="M710 135.5L715.5 146H704.5Z"/><path d="M717.7 135.5L723.2 146H712.2Z"/><path d="M725.5 135.5L731 146H720Z"/><path d="M733.2 135.5L738.7 146H727.7Z"/><path d="M741 135.5L746.5 146H735.5Z"/><path d="M748.7 135.5L754.2 146H743.2Z"/><path d="M756.5 135.5L762 146H751Z"/></g>
<polyline points="925.5,351 933,378.5 940.6,378.5 948.2,378.5 955.8,378.5 963.4,378.5 971,378.5 978.6,378.5 986.2,378.5 993.8,378.5 1001.4,378.5 1009,378.5 1016.6,378.5 1024.2,378.5 1031.8,378.5 1039.4,378.5 1047,378.5 1053.8,368.9 1061.6,353.3 1066,324.3 1074.6,290.2 1083.7,244.9 1092.7,210.9 1098.3,176.4 1106.5,147.5 1113.7,124.8 1119.9,111.4 1126,106.5 1132,103 1139.5,99 1146,94.5 1151.9,88.7 1160,80 1168.4,74.3 1175,62 1182,50 1188,38 1195,27.3 1202.4,27.3 1209.9,27.3 1217.3,27.3 1224.8,27.3 1232.2,27.3 1239.7,27.3 1247.1,27.3 1254.6,27.3 1262,27.3 1269.5,27.3 1276.9,27.3 1284.4,27.3 1291.8,27.3 1299.3,27.3 1306.7,27.3 1314.1,27.3 1321.6,27.3 1329,27.3 1336.5,27.3 1343.9,27.3 1351.4,27.3 1358.8,27.3 1366.3,27.3 1373.7,27.3 1381.2,27.3 1388.6,27.3 1396.1,27.3 1403.5,27.3 1411,27.3 1418.4,27.3 1425.9,27.3 1433.3,27.3 1440.7,27.3 1448.2,27.3 1455.6,27.3 1463.1,27.3 1470.5,27.3 1478,27.3 1485.4,27.3 1492.9,27.3 1500.3,27.3 1507.8,27.3 1515.2,27.3 1522.7,27.3 1530.1,27.3 1537.6,27.3 1545,27.3" fill="none" stroke="#9E5518" stroke-width="4.4" stroke-linejoin="round" stroke-linecap="round" /><g fill="#A15B22" stroke="#9A5318" stroke-width="0.6" stroke-linejoin="miter"><path d="M925.5 344.2L932.2 351L925.5 357.8L918.8 351Z"/><path d="M933 371.8L939.8 378.5L933 385.2L926.2 378.5Z"/><path d="M940.6 371.8L947.4 378.5L940.6 385.2L933.9 378.5Z"/><path d="M948.2 371.8L955 378.5L948.2 385.2L941.5 378.5Z"/><path d="M955.8 371.8L962.5 378.5L955.8 385.2L949 378.5Z"/><path d="M963.4 371.8L970.1 378.5L963.4 385.2L956.6 378.5Z"/><path d="M971 371.8L977.8 378.5L971 385.2L964.2 378.5Z"/><path d="M978.6 371.8L985.4 378.5L978.6 385.2L971.9 378.5Z"/><path d="M986.2 371.8L993 378.5L986.2 385.2L979.5 378.5Z"/><path d="M993.8 371.8L1000.5 378.5L993.8 385.2L987 378.5Z"/><path d="M1001.4 371.8L1008.1 378.5L1001.4 385.2L994.6 378.5Z"/><path d="M1009 371.8L1015.8 378.5L1009 385.2L1002.2 378.5Z"/><path d="M1016.6 371.8L1023.4 378.5L1016.6 385.2L1009.9 378.5Z"/><path d="M1024.2 371.8L1031 378.5L1024.2 385.2L1017.5 378.5Z"/><path d="M1031.8 371.8L1038.5 378.5L1031.8 385.2L1025 378.5Z"/><path d="M1039.4 371.8L1046.2 378.5L1039.4 385.2L1032.7 378.5Z"/><path d="M1047 371.8L1053.8 378.5L1047 385.2L1040.2 378.5Z"/><path d="M1053.8 362.1L1060.5 368.9L1053.8 375.6L1047 368.9Z"/><path d="M1061.6 346.6L1068.3 353.3L1061.6 360.1L1054.8 353.3Z"/><path d="M1066 317.6L1072.8 324.3L1066 331.1L1059.2 324.3Z"/><path d="M1074.6 283.4L1081.3 290.2L1074.6 296.9L1067.8 290.2Z"/><path d="M1083.7 238.2L1090.5 244.9L1083.7 251.7L1077 244.9Z"/><path d="M1092.7 204.2L1099.5 210.9L1092.7 217.7L1086 210.9Z"/><path d="M1098.3 169.7L1105 176.4L1098.3 183.2L1091.5 176.4Z"/><path d="M1106.5 140.8L1113.2 147.5L1106.5 154.2L1099.8 147.5Z"/><path d="M1113.7 118L1120.5 124.8L1113.7 131.6L1107 124.8Z"/><path d="M1119.9 104.7L1126.7 111.4L1119.9 118.2L1113.2 111.4Z"/><path d="M1126 99.8L1132.8 106.5L1126 113.2L1119.2 106.5Z"/><path d="M1132 96.2L1138.8 103L1132 109.8L1125.2 103Z"/><path d="M1139.5 92.2L1146.2 99L1139.5 105.8L1132.8 99Z"/><path d="M1146 87.8L1152.8 94.5L1146 101.2L1139.2 94.5Z"/><path d="M1151.9 82L1158.7 88.7L1151.9 95.5L1145.2 88.7Z"/><path d="M1160 73.2L1166.8 80L1160 86.8L1153.2 80Z"/><path d="M1168.4 67.5L1175.2 74.3L1168.4 81L1161.7 74.3Z"/><path d="M1175 55.2L1181.8 62L1175 68.8L1168.2 62Z"/><path d="M1182 43.2L1188.8 50L1182 56.8L1175.2 50Z"/><path d="M1188 31.2L1194.8 38L1188 44.8L1181.2 38Z"/><path d="M1195 20.6L1201.8 27.3L1195 34L1188.2 27.3Z"/></g>
<polyline points="925.5,362 933,378 940.6,378 948.2,378 955.8,378 963.4,378 971.1,378 978.7,378 986.3,378 993.9,378 1001.5,378 1009.3,369.8 1017.1,326.4 1024.2,246.3 1032,156.2 1040.5,76 1048,27.3 1057.5,28 1065,28 1072.5,28 1080,28 1087.5,28 1095,28 1102.5,28 1110,28 1117.5,28 1125,28 1132.5,28.1 1140,28.1 1147.5,28.1 1155,28.1 1162.5,28.1 1170,28.1 1177.5,28.1 1185,28.1 1192.5,28.1 1200,28.1 1207.5,28.1 1215,28.1 1222.5,28.1 1230,28.1 1237.5,28.1 1245,28.1 1252.5,28.1 1260,28.1 1267.5,28.1 1275,28.1 1282.5,28.1 1290,28.1 1297.5,28.1 1305,28.2 1312.5,28.2 1320,28.2 1327.5,28.2 1335,28.2 1342.5,28.2 1350,28.2 1357.5,28.2 1365,28.2 1372.5,28.2 1380,28.2 1387.5,28.2 1395,28.2 1402.5,28.2 1410,28.2 1417.5,28.2 1425,28.2 1432.5,28.2 1440,28.2 1447.5,28.2 1455,28.2 1462.5,28.2 1470,28.3 1477.5,28.3 1485,28.3 1492.5,28.3 1500,28.3 1507.5,28.3 1515,28.3 1522.5,28.3 1530,28.3 1537.5,28.3 1545,28.3" fill="none" stroke="#B5662A" stroke-width="4.4" stroke-linejoin="round" stroke-linecap="round" /><g fill="#B5662A" stroke="#A85C22" stroke-width="0.8" stroke-linejoin="miter"><rect x="918.8" y="355.2" width="13.5" height="13.5"/><rect x="926.2" y="371.2" width="13.5" height="13.5"/><rect x="933.9" y="371.2" width="13.5" height="13.5"/><rect x="941.5" y="371.2" width="13.5" height="13.5"/><rect x="949.1" y="371.2" width="13.5" height="13.5"/><rect x="956.7" y="371.2" width="13.5" height="13.5"/><rect x="964.3" y="371.2" width="13.5" height="13.5"/><rect x="971.9" y="371.2" width="13.5" height="13.5"/><rect x="979.5" y="371.2" width="13.5" height="13.5"/><rect x="987.1" y="371.2" width="13.5" height="13.5"/><rect x="994.8" y="371.2" width="13.5" height="13.5"/><rect x="1002.5" y="363.1" width="13.5" height="13.5"/><rect x="1010.4" y="319.6" width="13.5" height="13.5"/><rect x="1017.5" y="239.6" width="13.5" height="13.5"/><rect x="1025.2" y="149.4" width="13.5" height="13.5"/><rect x="1033.8" y="69.2" width="13.5" height="13.5"/><rect x="1041.2" y="20.6" width="13.5" height="13.5"/><rect x="1050.8" y="21.3" width="13.5" height="13.5"/><rect x="1058.2" y="21.3" width="13.5" height="13.5"/><rect x="1065.8" y="21.3" width="13.5" height="13.5"/><rect x="1073.2" y="21.3" width="13.5" height="13.5"/><rect x="1080.8" y="21.3" width="13.5" height="13.5"/><rect x="1088.2" y="21.3" width="13.5" height="13.5"/><rect x="1095.8" y="21.3" width="13.5" height="13.5"/><rect x="1103.2" y="21.3" width="13.5" height="13.5"/><rect x="1110.8" y="21.3" width="13.5" height="13.5"/><rect x="1118.2" y="21.3" width="13.5" height="13.5"/><rect x="1125.8" y="21.3" width="13.5" height="13.5"/><rect x="1133.2" y="21.3" width="13.5" height="13.5"/><rect x="1140.8" y="21.3" width="13.5" height="13.5"/><rect x="1148.2" y="21.3" width="13.5" height="13.5"/><rect x="1155.8" y="21.3" width="13.5" height="13.5"/><rect x="1163.2" y="21.3" width="13.5" height="13.5"/><rect x="1170.8" y="21.3" width="13.5" height="13.5"/><rect x="1178.2" y="21.3" width="13.5" height="13.5"/><rect x="1185.8" y="21.3" width="13.5" height="13.5"/><rect x="1193.2" y="21.3" width="13.5" height="13.5"/><rect x="1200.8" y="21.3" width="13.5" height="13.5"/><rect x="1208.2" y="21.4" width="13.5" height="13.5"/><rect x="1215.8" y="21.4" width="13.5" height="13.5"/><rect x="1223.2" y="21.4" width="13.5" height="13.5"/><rect x="1230.8" y="21.4" width="13.5" height="13.5"/><rect x="1238.2" y="21.4" width="13.5" height="13.5"/><rect x="1245.8" y="21.4" width="13.5" height="13.5"/><rect x="1253.2" y="21.4" width="13.5" height="13.5"/><rect x="1260.8" y="21.4" width="13.5" height="13.5"/><rect x="1268.2" y="21.4" width="13.5" height="13.5"/><rect x="1275.8" y="21.4" width="13.5" height="13.5"/><rect x="1283.2" y="21.4" width="13.5" height="13.5"/><rect x="1290.8" y="21.4" width="13.5" height="13.5"/><rect x="1298.2" y="21.4" width="13.5" height="13.5"/><rect x="1305.8" y="21.4" width="13.5" height="13.5"/><rect x="1313.2" y="21.4" width="13.5" height="13.5"/><rect x="1320.8" y="21.4" width="13.5" height="13.5"/><rect x="1328.2" y="21.4" width="13.5" height="13.5"/><rect x="1335.8" y="21.4" width="13.5" height="13.5"/><rect x="1343.2" y="21.4" width="13.5" height="13.5"/><rect x="1350.8" y="21.4" width="13.5" height="13.5"/><rect x="1358.2" y="21.4" width="13.5" height="13.5"/><rect x="1365.8" y="21.4" width="13.5" height="13.5"/><rect x="1373.2" y="21.4" width="13.5" height="13.5"/><rect x="1380.8" y="21.5" width="13.5" height="13.5"/><rect x="1388.2" y="21.5" width="13.5" height="13.5"/><rect x="1395.8" y="21.5" width="13.5" height="13.5"/><rect x="1403.2" y="21.5" width="13.5" height="13.5"/><rect x="1410.8" y="21.5" width="13.5" height="13.5"/><rect x="1418.2" y="21.5" width="13.5" height="13.5"/><rect x="1425.8" y="21.5" width="13.5" height="13.5"/><rect x="1433.2" y="21.5" width="13.5" height="13.5"/><rect x="1440.8" y="21.5" width="13.5" height="13.5"/><rect x="1448.2" y="21.5" width="13.5" height="13.5"/><rect x="1455.8" y="21.5" width="13.5" height="13.5"/><rect x="1463.2" y="21.5" width="13.5" height="13.5"/><rect x="1470.8" y="21.5" width="13.5" height="13.5"/><rect x="1478.2" y="21.5" width="13.5" height="13.5"/><rect x="1485.8" y="21.5" width="13.5" height="13.5"/><rect x="1493.2" y="21.5" width="13.5" height="13.5"/><rect x="1500.8" y="21.5" width="13.5" height="13.5"/><rect x="1508.2" y="21.5" width="13.5" height="13.5"/><rect x="1515.8" y="21.5" width="13.5" height="13.5"/><rect x="1523.2" y="21.5" width="13.5" height="13.5"/><rect x="1530.8" y="21.5" width="13.5" height="13.5"/><rect x="1538.2" y="21.6" width="13.5" height="13.5"/></g>
<polyline points="925.5,355 933,377 940.5,377 948,377 955.5,377 963,377 970.5,377 978,377 985.5,377 993,377 997,300 1000,200 1003,110 1006.6,30 1010,27.3 1017.2,27.3 1024.5,27.3 1031.7,27.3 1038.9,27.3 1046.1,27.3 1053.4,27.3 1060.6,27.3 1067.8,27.3 1075.1,27.3 1082.3,27.3 1089.5,27.3 1096.8,27.3 1104,27.3 1111.2,27.3 1118.4,27.3 1125.7,27.3 1132.9,27.3 1140.1,27.3 1147.4,27.3 1154.6,27.3 1161.8,27.3 1169.1,27.3 1176.3,27.3 1183.5,27.3 1190.7,27.3 1198,27.3 1205.2,27.3 1212.4,27.3 1219.7,27.3 1226.9,27.3 1234.1,27.3 1241.4,27.3 1248.6,27.3 1255.8,27.3 1263,27.3 1270.3,27.3 1277.5,27.3 1284.7,27.3 1292,27.3 1299.2,27.3 1306.4,27.3 1313.6,27.3 1320.9,27.3 1328.1,27.3 1335.3,27.3 1342.6,27.3 1349.8,27.3 1357,27.3 1364.3,27.3 1371.5,27.3 1378.7,27.3 1385.9,27.3 1393.2,27.3 1400.4,27.3 1407.6,27.3 1414.9,27.3 1422.1,27.3 1429.3,27.3 1436.6,27.3 1443.8,27.3 1451,27.3 1458.2,27.3 1465.5,27.3 1472.7,27.3 1479.9,27.3 1487.2,27.3 1494.4,27.3 1501.6,27.3 1508.9,27.3 1516.1,27.3 1523.3,27.3 1530.5,27.3 1537.8,27.3 1545,27.3" fill="none" stroke="#C5712D" stroke-width="4.4" stroke-linejoin="round" stroke-linecap="round" /><g fill="#C8732F" stroke="#BE6B28" stroke-width="1" stroke-linejoin="miter"><path d="M925.5 348.2L932 360.5H919Z"/><path d="M933 370.2L939.5 382.5H926.5Z"/><path d="M940.5 370.2L947 382.5H934Z"/><path d="M948 370.2L954.5 382.5H941.5Z"/><path d="M955.5 370.2L962 382.5H949Z"/><path d="M963 370.2L969.5 382.5H956.5Z"/><path d="M970.5 370.2L977 382.5H964Z"/><path d="M978 370.2L984.5 382.5H971.5Z"/><path d="M985.5 370.2L992 382.5H979Z"/><path d="M993 370.2L999.5 382.5H986.5Z"/><path d="M997 293.2L1003.5 305.5H990.5Z"/><path d="M1000 193.2L1006.5 205.5H993.5Z"/><path d="M1003 103.2L1009.5 115.5H996.5Z"/><path d="M1006.6 23.2L1013.1 35.5H1000.1Z"/><path d="M1010 20.5L1016.5 32.8H1003.5Z"/><path d="M1017.2 20.5L1023.7 32.8H1010.7Z"/><path d="M1024.5 20.5L1031 32.8H1018Z"/><path d="M1031.7 20.5L1038.2 32.8H1025.2Z"/><path d="M1038.9 20.5L1045.4 32.8H1032.4Z"/><path d="M1046.1 20.5L1052.6 32.8H1039.6Z"/><path d="M1053.4 20.5L1059.9 32.8H1046.9Z"/><path d="M1060.6 20.5L1067.1 32.8H1054.1Z"/><path d="M1067.8 20.5L1074.3 32.8H1061.3Z"/><path d="M1075.1 20.5L1081.6 32.8H1068.6Z"/><path d="M1082.3 20.5L1088.8 32.8H1075.8Z"/><path d="M1089.5 20.5L1096 32.8H1083Z"/><path d="M1096.8 20.5L1103.3 32.8H1090.3Z"/><path d="M1104 20.5L1110.5 32.8H1097.5Z"/><path d="M1111.2 20.5L1117.7 32.8H1104.7Z"/><path d="M1118.4 20.5L1124.9 32.8H1111.9Z"/><path d="M1125.7 20.5L1132.2 32.8H1119.2Z"/><path d="M1132.9 20.5L1139.4 32.8H1126.4Z"/><path d="M1140.1 20.5L1146.6 32.8H1133.6Z"/><path d="M1147.4 20.5L1153.9 32.8H1140.9Z"/><path d="M1154.6 20.5L1161.1 32.8H1148.1Z"/><path d="M1161.8 20.5L1168.3 32.8H1155.3Z"/><path d="M1169.1 20.5L1175.6 32.8H1162.6Z"/><path d="M1176.3 20.5L1182.8 32.8H1169.8Z"/><path d="M1183.5 20.5L1190 32.8H1177Z"/><path d="M1190.7 20.5L1197.2 32.8H1184.2Z"/><path d="M1198 20.5L1204.5 32.8H1191.5Z"/><path d="M1205.2 20.5L1211.7 32.8H1198.7Z"/><path d="M1212.4 20.5L1218.9 32.8H1205.9Z"/><path d="M1219.7 20.5L1226.2 32.8H1213.2Z"/><path d="M1226.9 20.5L1233.4 32.8H1220.4Z"/><path d="M1234.1 20.5L1240.6 32.8H1227.6Z"/><path d="M1241.4 20.5L1247.9 32.8H1234.9Z"/><path d="M1248.6 20.5L1255.1 32.8H1242.1Z"/><path d="M1255.8 20.5L1262.3 32.8H1249.3Z"/><path d="M1263 20.5L1269.5 32.8H1256.5Z"/><path d="M1270.3 20.5L1276.8 32.8H1263.8Z"/><path d="M1277.5 20.5L1284 32.8H1271Z"/><path d="M1284.7 20.5L1291.2 32.8H1278.2Z"/><path d="M1292 20.5L1298.5 32.8H1285.5Z"/><path d="M1299.2 20.5L1305.7 32.8H1292.7Z"/><path d="M1306.4 20.5L1312.9 32.8H1299.9Z"/><path d="M1313.6 20.5L1320.1 32.8H1307.1Z"/><path d="M1320.9 20.5L1327.4 32.8H1314.4Z"/><path d="M1328.1 20.5L1334.6 32.8H1321.6Z"/><path d="M1335.3 20.5L1341.8 32.8H1328.8Z"/><path d="M1342.6 20.5L1349.1 32.8H1336.1Z"/><path d="M1349.8 20.5L1356.3 32.8H1343.3Z"/><path d="M1357 20.5L1363.5 32.8H1350.5Z"/><path d="M1364.3 20.5L1370.8 32.8H1357.8Z"/><path d="M1371.5 20.5L1378 32.8H1365Z"/><path d="M1378.7 20.5L1385.2 32.8H1372.2Z"/><path d="M1385.9 20.5L1392.4 32.8H1379.4Z"/><path d="M1393.2 20.5L1399.7 32.8H1386.7Z"/><path d="M1400.4 20.5L1406.9 32.8H1393.9Z"/><path d="M1407.6 20.5L1414.1 32.8H1401.1Z"/><path d="M1414.9 20.5L1421.4 32.8H1408.4Z"/><path d="M1422.1 20.5L1428.6 32.8H1415.6Z"/><path d="M1429.3 20.5L1435.8 32.8H1422.8Z"/><path d="M1436.6 20.5L1443.1 32.8H1430.1Z"/><path d="M1443.8 20.5L1450.3 32.8H1437.3Z"/><path d="M1451 20.5L1457.5 32.8H1444.5Z"/><path d="M1458.2 20.5L1464.7 32.8H1451.7Z"/><path d="M1465.5 20.5L1472 32.8H1459Z"/><path d="M1472.7 20.5L1479.2 32.8H1466.2Z"/><path d="M1479.9 20.5L1486.4 32.8H1473.4Z"/><path d="M1487.2 20.5L1493.7 32.8H1480.7Z"/><path d="M1494.4 20.5L1500.9 32.8H1487.9Z"/><path d="M1501.6 20.5L1508.1 32.8H1495.1Z"/><path d="M1508.9 20.5L1515.4 32.8H1502.4Z"/><path d="M1516.1 20.5L1522.6 32.8H1509.6Z"/><path d="M1523.3 20.5L1529.8 32.8H1516.8Z"/><path d="M1530.5 20.5L1537 32.8H1524Z"/><path d="M1537.8 20.5L1544.3 32.8H1531.3Z"/><path d="M1545 20.5L1551.5 32.8H1538.5Z"/></g>
<polyline points="925.5,358 933,375 940.9,374.9 948.7,374.7 956.6,374.6 964.4,374.4 972.3,374.3 980.1,374.1 988,374 991,340 994,280 997,200 1000,125 1004,85 1008.5,62 1013,50 1017.2,43 1024,40.5 1031.6,40.4 1039.1,40.6 1046.7,41.3 1054.2,40.4 1061.8,40.5 1069.3,40.6 1076.9,39.8 1084.4,40.4 1092,40.7 1099.5,41 1107.1,39.6 1114.6,40 1122.2,39.5 1129.7,41 1137.3,40.7 1144.8,39.4 1152.4,41.3 1159.9,41.2 1167.5,40.6 1175,40.5 1182.6,39.6 1190.1,39.3 1197.7,40.3 1205.2,39.4 1212.8,39.6 1220.3,39.7 1227.9,39.3 1235.4,40.1 1243,40.1 1250.5,40.9 1258.1,40.2 1265.6,40.5 1273.2,40.2 1280.7,40.5 1288.3,40.1 1295.8,39.7 1303.4,41.1 1310.9,41.1 1318.5,40.8 1326,40.5 1333.6,39.7 1341.1,39.5 1348.7,39.6 1356.2,39.2 1363.8,40.6 1371.3,39.8 1378.9,40.7 1386.4,39.8 1394,40.9 1401.5,40.7 1409.1,39 1416.6,39.4 1424.2,40.8 1431.7,39.9 1439.3,40.9 1446.8,39.7 1454.4,39.1 1461.9,40.2 1469.5,40.5 1477,39.4 1484.6,39.1 1492.1,39.5 1499.7,40.8 1507.2,40.4 1514.8,39.1 1522.3,39.3 1529.9,39 1537.4,38.9 1545,39.8" fill="none" stroke="#DA7F36" stroke-width="4.4" stroke-linejoin="round" stroke-linecap="round" /><g fill="none" stroke="#DA7F36" stroke-width="1.8"><path d="M920 352.5L931 363.5M931 352.5L920 363.5"/><path d="M927.5 369.5L938.5 380.5M938.5 369.5L927.5 380.5"/><path d="M935.4 369.4L946.4 380.4M946.4 369.4L935.4 380.4"/><path d="M943.2 369.2L954.2 380.2M954.2 369.2L943.2 380.2"/><path d="M951.1 369.1L962.1 380.1M962.1 369.1L951.1 380.1"/><path d="M958.9 368.9L969.9 379.9M969.9 368.9L958.9 379.9"/><path d="M966.8 368.8L977.8 379.8M977.8 368.8L966.8 379.8"/><path d="M974.6 368.6L985.6 379.6M985.6 368.6L974.6 379.6"/><path d="M982.5 368.5L993.5 379.5M993.5 368.5L982.5 379.5"/><path d="M985.5 334.5L996.5 345.5M996.5 334.5L985.5 345.5"/><path d="M988.5 274.5L999.5 285.5M999.5 274.5L988.5 285.5"/><path d="M991.5 194.5L1002.5 205.5M1002.5 194.5L991.5 205.5"/><path d="M994.5 119.5L1005.5 130.5M1005.5 119.5L994.5 130.5"/><path d="M998.5 79.5L1009.5 90.5M1009.5 79.5L998.5 90.5"/><path d="M1003 56.5L1014 67.5M1014 56.5L1003 67.5"/><path d="M1007.5 44.5L1018.5 55.5M1018.5 44.5L1007.5 55.5"/><path d="M1011.7 37.5L1022.7 48.5M1022.7 37.5L1011.7 48.5"/><path d="M1018.5 35L1029.5 46M1029.5 35L1018.5 46"/><path d="M1026.1 34.9L1037.1 45.9M1037.1 34.9L1026.1 45.9"/><path d="M1033.6 35.1L1044.6 46.1M1044.6 35.1L1033.6 46.1"/><path d="M1041.2 35.8L1052.2 46.8M1052.2 35.8L1041.2 46.8"/><path d="M1048.7 34.9L1059.7 45.9M1059.7 34.9L1048.7 45.9"/><path d="M1056.3 35L1067.3 46M1067.3 35L1056.3 46"/><path d="M1063.8 35.1L1074.8 46.1M1074.8 35.1L1063.8 46.1"/><path d="M1071.4 34.3L1082.4 45.3M1082.4 34.3L1071.4 45.3"/><path d="M1078.9 34.9L1089.9 45.9M1089.9 34.9L1078.9 45.9"/><path d="M1086.5 35.2L1097.5 46.2M1097.5 35.2L1086.5 46.2"/><path d="M1094 35.5L1105 46.5M1105 35.5L1094 46.5"/><path d="M1101.6 34.1L1112.6 45.1M1112.6 34.1L1101.6 45.1"/><path d="M1109.1 34.5L1120.1 45.5M1120.1 34.5L1109.1 45.5"/><path d="M1116.7 34L1127.7 45M1127.7 34L1116.7 45"/><path d="M1124.2 35.5L1135.2 46.5M1135.2 35.5L1124.2 46.5"/><path d="M1131.8 35.2L1142.8 46.2M1142.8 35.2L1131.8 46.2"/><path d="M1139.3 33.9L1150.3 44.9M1150.3 33.9L1139.3 44.9"/><path d="M1146.9 35.8L1157.9 46.8M1157.9 35.8L1146.9 46.8"/><path d="M1154.4 35.7L1165.4 46.7M1165.4 35.7L1154.4 46.7"/><path d="M1162 35.1L1173 46.1M1173 35.1L1162 46.1"/><path d="M1169.5 35L1180.5 46M1180.5 35L1169.5 46"/><path d="M1177.1 34.1L1188.1 45.1M1188.1 34.1L1177.1 45.1"/><path d="M1184.6 33.8L1195.6 44.8M1195.6 33.8L1184.6 44.8"/><path d="M1192.2 34.8L1203.2 45.8M1203.2 34.8L1192.2 45.8"/><path d="M1199.7 33.9L1210.7 44.9M1210.7 33.9L1199.7 44.9"/><path d="M1207.3 34.1L1218.3 45.1M1218.3 34.1L1207.3 45.1"/><path d="M1214.8 34.2L1225.8 45.2M1225.8 34.2L1214.8 45.2"/><path d="M1222.4 33.8L1233.4 44.8M1233.4 33.8L1222.4 44.8"/><path d="M1229.9 34.6L1240.9 45.6M1240.9 34.6L1229.9 45.6"/><path d="M1237.5 34.6L1248.5 45.6M1248.5 34.6L1237.5 45.6"/><path d="M1245 35.4L1256 46.4M1256 35.4L1245 46.4"/><path d="M1252.6 34.7L1263.6 45.7M1263.6 34.7L1252.6 45.7"/><path d="M1260.1 35L1271.1 46M1271.1 35L1260.1 46"/><path d="M1267.7 34.7L1278.7 45.7M1278.7 34.7L1267.7 45.7"/><path d="M1275.2 35L1286.2 46M1286.2 35L1275.2 46"/><path d="M1282.8 34.6L1293.8 45.6M1293.8 34.6L1282.8 45.6"/><path d="M1290.3 34.2L1301.3 45.2M1301.3 34.2L1290.3 45.2"/><path d="M1297.9 35.6L1308.9 46.6M1308.9 35.6L1297.9 46.6"/><path d="M1305.4 35.6L1316.4 46.6M1316.4 35.6L1305.4 46.6"/><path d="M1313 35.3L1324 46.3M1324 35.3L1313 46.3"/><path d="M1320.5 35L1331.5 46M1331.5 35L1320.5 46"/><path d="M1328.1 34.2L1339.1 45.2M1339.1 34.2L1328.1 45.2"/><path d="M1335.6 34L1346.6 45M1346.6 34L1335.6 45"/><path d="M1343.2 34.1L1354.2 45.1M1354.2 34.1L1343.2 45.1"/><path d="M1350.7 33.7L1361.7 44.7M1361.7 33.7L1350.7 44.7"/><path d="M1358.3 35.1L1369.3 46.1M1369.3 35.1L1358.3 46.1"/><path d="M1365.8 34.3L1376.8 45.3M1376.8 34.3L1365.8 45.3"/><path d="M1373.4 35.2L1384.4 46.2M1384.4 35.2L1373.4 46.2"/><path d="M1380.9 34.3L1391.9 45.3M1391.9 34.3L1380.9 45.3"/><path d="M1388.5 35.4L1399.5 46.4M1399.5 35.4L1388.5 46.4"/><path d="M1396 35.2L1407 46.2M1407 35.2L1396 46.2"/><path d="M1403.6 33.5L1414.6 44.5M1414.6 33.5L1403.6 44.5"/><path d="M1411.1 33.9L1422.1 44.9M1422.1 33.9L1411.1 44.9"/><path d="M1418.7 35.3L1429.7 46.3M1429.7 35.3L1418.7 46.3"/><path d="M1426.2 34.4L1437.2 45.4M1437.2 34.4L1426.2 45.4"/><path d="M1433.8 35.4L1444.8 46.4M1444.8 35.4L1433.8 46.4"/><path d="M1441.3 34.2L1452.3 45.2M1452.3 34.2L1441.3 45.2"/><path d="M1448.9 33.6L1459.9 44.6M1459.9 33.6L1448.9 44.6"/><path d="M1456.4 34.7L1467.4 45.7M1467.4 34.7L1456.4 45.7"/><path d="M1464 35L1475 46M1475 35L1464 46"/><path d="M1471.5 33.9L1482.5 44.9M1482.5 33.9L1471.5 44.9"/><path d="M1479.1 33.6L1490.1 44.6M1490.1 33.6L1479.1 44.6"/><path d="M1486.6 34L1497.6 45M1497.6 34L1486.6 45"/><path d="M1494.2 35.3L1505.2 46.3M1505.2 35.3L1494.2 46.3"/><path d="M1501.7 34.9L1512.7 45.9M1512.7 34.9L1501.7 45.9"/><path d="M1509.3 33.6L1520.3 44.6M1520.3 33.6L1509.3 44.6"/><path d="M1516.8 33.8L1527.8 44.8M1527.8 33.8L1516.8 44.8"/><path d="M1524.4 33.5L1535.4 44.5M1535.4 33.5L1524.4 44.5"/><path d="M1531.9 33.4L1542.9 44.4M1542.9 33.4L1531.9 44.4"/><path d="M1539.5 34.3L1550.5 45.3M1550.5 34.3L1539.5 45.3"/></g>
<polyline points="925.5,362 933,375 940.6,374.8 948.2,374.5 955.9,374.2 963.5,374 971.1,373.8 978.8,373.5 986.4,373.2 994,373 997,330 1000,280 1004,220 1009,165 1014,125 1020,95 1027,70 1032,55 1045,48 1060.5,45 1080,43.5 1087.5,43.5 1095,43.8 1102.5,43.9 1110,42.8 1117.5,42.6 1125,43.3 1132.5,43.1 1140,44.2 1147.5,44 1155,43.8 1162.5,43.7 1170,43.9 1177.5,42.9 1185,43.5 1192.5,42.9 1200,44.4 1207.5,42.8 1215,44.3 1222.5,42.8 1230,44 1237.5,43.3 1245,43.5 1252.5,44.4 1260,42.7 1267.5,42.8 1275,44.5 1282.5,43.7 1290,42.9 1297.5,44.7 1305,44.6 1312.5,43 1320,43.6 1327.5,43 1335,43.4 1342.5,44 1350,43.1 1357.5,44.2 1365,42.9 1372.5,43.2 1380,44.5 1387.5,43.6 1395,43.7 1402.5,44 1410,43.8 1417.5,43.6 1425,42.9 1432.5,44.3 1440,44.8 1447.5,44.8 1455,44.2 1462.5,43.6 1470,43.6 1477.5,44.3 1485,44.3 1492.5,43.2 1500,43.4 1507.5,43.7 1515,44 1522.5,44.6 1530,44 1537.5,43 1545,44" fill="none" stroke="#F4A46A" stroke-width="4.2" stroke-linejoin="round" stroke-linecap="round" /><g fill="none" stroke="#F4A46A" stroke-width="1.8"><path d="M920 362H931M925.5 356.5V367.5"/><path d="M927.5 375H938.5M933 369.5V380.5"/><path d="M935.1 374.8H946.1M940.6 369.2V380.2"/><path d="M942.8 374.5H953.8M948.2 369V380"/><path d="M950.4 374.2H961.4M955.9 368.8V379.8"/><path d="M958 374H969M963.5 368.5V379.5"/><path d="M965.6 373.8H976.6M971.1 368.2V379.2"/><path d="M973.2 373.5H984.2M978.8 368V379"/><path d="M980.9 373.2H991.9M986.4 367.8V378.8"/><path d="M988.5 373H999.5M994 367.5V378.5"/><path d="M991.5 330H1002.5M997 324.5V335.5"/><path d="M994.5 280H1005.5M1000 274.5V285.5"/><path d="M998.5 220H1009.5M1004 214.5V225.5"/><path d="M1003.5 165H1014.5M1009 159.5V170.5"/><path d="M1008.5 125H1019.5M1014 119.5V130.5"/><path d="M1014.5 95H1025.5M1020 89.5V100.5"/><path d="M1021.5 70H1032.5M1027 64.5V75.5"/><path d="M1026.5 55H1037.5M1032 49.5V60.5"/><path d="M1039.5 48H1050.5M1045 42.5V53.5"/><path d="M1055 45H1066M1060.5 39.5V50.5"/><path d="M1074.5 43.5H1085.5M1080 38V49"/><path d="M1082 43.5H1093M1087.5 38V49"/><path d="M1089.5 43.8H1100.5M1095 38.3V49.3"/><path d="M1097 43.9H1108M1102.5 38.4V49.4"/><path d="M1104.5 42.8H1115.5M1110 37.3V48.3"/><path d="M1112 42.6H1123M1117.5 37.1V48.1"/><path d="M1119.5 43.3H1130.5M1125 37.8V48.8"/><path d="M1127 43.1H1138M1132.5 37.6V48.6"/><path d="M1134.5 44.2H1145.5M1140 38.7V49.7"/><path d="M1142 44H1153M1147.5 38.5V49.5"/><path d="M1149.5 43.8H1160.5M1155 38.3V49.3"/><path d="M1157 43.7H1168M1162.5 38.2V49.2"/><path d="M1164.5 43.9H1175.5M1170 38.4V49.4"/><path d="M1172 42.9H1183M1177.5 37.4V48.4"/><path d="M1179.5 43.5H1190.5M1185 38V49"/><path d="M1187 42.9H1198M1192.5 37.4V48.4"/><path d="M1194.5 44.4H1205.5M1200 38.9V49.9"/><path d="M1202 42.8H1213M1207.5 37.3V48.3"/><path d="M1209.5 44.3H1220.5M1215 38.8V49.8"/><path d="M1217 42.8H1228M1222.5 37.3V48.3"/><path d="M1224.5 44H1235.5M1230 38.5V49.5"/><path d="M1232 43.3H1243M1237.5 37.8V48.8"/><path d="M1239.5 43.5H1250.5M1245 38V49"/><path d="M1247 44.4H1258M1252.5 38.9V49.9"/><path d="M1254.5 42.7H1265.5M1260 37.2V48.2"/><path d="M1262 42.8H1273M1267.5 37.3V48.3"/><path d="M1269.5 44.5H1280.5M1275 39V50"/><path d="M1277 43.7H1288M1282.5 38.2V49.2"/><path d="M1284.5 42.9H1295.5M1290 37.4V48.4"/><path d="M1292 44.7H1303M1297.5 39.2V50.2"/><path d="M1299.5 44.6H1310.5M1305 39.1V50.1"/><path d="M1307 43H1318M1312.5 37.5V48.5"/><path d="M1314.5 43.6H1325.5M1320 38.1V49.1"/><path d="M1322 43H1333M1327.5 37.5V48.5"/><path d="M1329.5 43.4H1340.5M1335 37.9V48.9"/><path d="M1337 44H1348M1342.5 38.5V49.5"/><path d="M1344.5 43.1H1355.5M1350 37.6V48.6"/><path d="M1352 44.2H1363M1357.5 38.7V49.7"/><path d="M1359.5 42.9H1370.5M1365 37.4V48.4"/><path d="M1367 43.2H1378M1372.5 37.7V48.7"/><path d="M1374.5 44.5H1385.5M1380 39V50"/><path d="M1382 43.6H1393M1387.5 38.1V49.1"/><path d="M1389.5 43.7H1400.5M1395 38.2V49.2"/><path d="M1397 44H1408M1402.5 38.5V49.5"/><path d="M1404.5 43.8H1415.5M1410 38.3V49.3"/><path d="M1412 43.6H1423M1417.5 38.1V49.1"/><path d="M1419.5 42.9H1430.5M1425 37.4V48.4"/><path d="M1427 44.3H1438M1432.5 38.8V49.8"/><path d="M1434.5 44.8H1445.5M1440 39.3V50.3"/><path d="M1442 44.8H1453M1447.5 39.3V50.3"/><path d="M1449.5 44.2H1460.5M1455 38.7V49.7"/><path d="M1457 43.6H1468M1462.5 38.1V49.1"/><path d="M1464.5 43.6H1475.5M1470 38.1V49.1"/><path d="M1472 44.3H1483M1477.5 38.8V49.8"/><path d="M1479.5 44.3H1490.5M1485 38.8V49.8"/><path d="M1487 43.2H1498M1492.5 37.7V48.7"/><path d="M1494.5 43.4H1505.5M1500 37.9V48.9"/><path d="M1502 43.7H1513M1507.5 38.2V49.2"/><path d="M1509.5 44H1520.5M1515 38.5V49.5"/><path d="M1517 44.6H1528M1522.5 39.1V50.1"/><path d="M1524.5 44H1535.5M1530 38.5V49.5"/><path d="M1532 43H1543M1537.5 37.5V48.5"/><path d="M1539.5 44H1550.5M1545 38.5V49.5"/></g>
<polyline points="925.5,364 933,376 940.9,375.8 948.8,375.5 956.6,375.2 964.5,375 972.4,374.8 980.2,374.5 988.1,374.2 996,374 999,330 1002,280 1005,235 1010,188 1016,150 1023,122 1032,104 1040,93 1047,88 1055,86.5 1070,85.5 1085,85 1092.7,83.9 1100.3,86.4 1108,86.6 1115.7,87.8 1123.3,84.2 1131,84.7 1138.7,84.4 1146.3,85.1 1154,88.1 1161.7,84.9 1169.3,87.4 1177,85.8 1184.7,86.5 1192.3,87.4 1200,88 1207.5,90 1215,88.9 1222.5,85.7 1230,87.3 1237.5,86.8 1245,91 1252.5,90.8 1260,90.9 1267.5,91.2 1275,90.9 1282.5,92.2 1290,91.4 1297.5,88.6 1305,92.1 1312.5,90.2 1320,91.8 1327.5,90.9 1335,90.3 1342.5,90.1 1350,91 1357.5,90.7 1365,90.1 1372.5,89.1 1380,93.1 1387.5,93.1 1395,94.2 1402.5,92.6 1410,91.9 1417.5,93.1 1425,89.7 1432.5,92.8 1440,91.6 1447.5,90.2 1455,90.4 1462.5,92.3 1470,90.8 1477.5,92.1 1485,93 1492.5,91.9 1500,90.5 1507.5,92.6 1515,91.2 1522.5,91.3 1530,91.1 1537.5,92.2 1545,93" fill="none" stroke="#E3802F" stroke-width="4.6" stroke-linejoin="round" stroke-linecap="round" /><g fill="none" stroke="#E3802F" stroke-width="1.8"><path d="M919.2 357.8L931.8 370.2M931.8 357.8L919.2 370.2M925.5 357.8V370.2"/><path d="M926.8 369.8L939.2 382.2M939.2 369.8L926.8 382.2M933 369.8V382.2"/><path d="M934.6 369.5L947.1 382M947.1 369.5L934.6 382M940.9 369.5V382"/><path d="M942.5 369.2L955 381.8M955 369.2L942.5 381.8M948.8 369.2V381.8"/><path d="M950.4 369L962.9 381.5M962.9 369L950.4 381.5M956.6 369V381.5"/><path d="M958.2 368.8L970.8 381.2M970.8 368.8L958.2 381.2M964.5 368.8V381.2"/><path d="M966.1 368.5L978.6 381M978.6 368.5L966.1 381M972.4 368.5V381"/><path d="M974 368.2L986.5 380.8M986.5 368.2L974 380.8M980.2 368.2V380.8"/><path d="M981.9 368L994.4 380.5M994.4 368L981.9 380.5M988.1 368V380.5"/><path d="M989.8 367.8L1002.2 380.2M1002.2 367.8L989.8 380.2M996 367.8V380.2"/><path d="M992.8 323.8L1005.2 336.2M1005.2 323.8L992.8 336.2M999 323.8V336.2"/><path d="M995.8 273.8L1008.2 286.2M1008.2 273.8L995.8 286.2M1002 273.8V286.2"/><path d="M998.8 228.8L1011.2 241.2M1011.2 228.8L998.8 241.2M1005 228.8V241.2"/><path d="M1003.8 181.8L1016.2 194.2M1016.2 181.8L1003.8 194.2M1010 181.8V194.2"/><path d="M1009.8 143.8L1022.2 156.2M1022.2 143.8L1009.8 156.2M1016 143.8V156.2"/><path d="M1016.8 115.8L1029.2 128.2M1029.2 115.8L1016.8 128.2M1023 115.8V128.2"/><path d="M1025.8 97.8L1038.2 110.2M1038.2 97.8L1025.8 110.2M1032 97.8V110.2"/><path d="M1033.8 86.8L1046.2 99.2M1046.2 86.8L1033.8 99.2M1040 86.8V99.2"/><path d="M1040.8 81.8L1053.2 94.2M1053.2 81.8L1040.8 94.2M1047 81.8V94.2"/><path d="M1048.8 80.2L1061.2 92.8M1061.2 80.2L1048.8 92.8M1055 80.2V92.8"/><path d="M1063.8 79.2L1076.2 91.8M1076.2 79.2L1063.8 91.8M1070 79.2V91.8"/><path d="M1078.8 78.8L1091.2 91.2M1091.2 78.8L1078.8 91.2M1085 78.8V91.2"/><path d="M1086.4 77.6L1098.9 90.1M1098.9 77.6L1086.4 90.1M1092.7 77.6V90.1"/><path d="M1094.1 80.2L1106.6 92.7M1106.6 80.2L1094.1 92.7M1100.3 80.2V92.7"/><path d="M1101.8 80.4L1114.2 92.9M1114.2 80.4L1101.8 92.9M1108 80.4V92.9"/><path d="M1109.4 81.5L1121.9 94M1121.9 81.5L1109.4 94M1115.7 81.5V94"/><path d="M1117.1 78L1129.6 90.5M1129.6 78L1117.1 90.5M1123.3 78V90.5"/><path d="M1124.8 78.4L1137.2 90.9M1137.2 78.4L1124.8 90.9M1131 78.4V90.9"/><path d="M1132.4 78.2L1144.9 90.7M1144.9 78.2L1132.4 90.7M1138.7 78.2V90.7"/><path d="M1140.1 78.8L1152.6 91.3M1152.6 78.8L1140.1 91.3M1146.3 78.8V91.3"/><path d="M1147.8 81.9L1160.2 94.4M1160.2 81.9L1147.8 94.4M1154 81.9V94.4"/><path d="M1155.4 78.7L1167.9 91.2M1167.9 78.7L1155.4 91.2M1161.7 78.7V91.2"/><path d="M1163.1 81.1L1175.6 93.6M1175.6 81.1L1163.1 93.6M1169.3 81.1V93.6"/><path d="M1170.8 79.5L1183.2 92M1183.2 79.5L1170.8 92M1177 79.5V92"/><path d="M1178.4 80.2L1190.9 92.7M1190.9 80.2L1178.4 92.7M1184.7 80.2V92.7"/><path d="M1186.1 81.2L1198.6 93.7M1198.6 81.2L1186.1 93.7M1192.3 81.2V93.7"/><path d="M1193.8 81.8L1206.2 94.2M1206.2 81.8L1193.8 94.2M1200 81.8V94.2"/><path d="M1201.2 83.8L1213.8 96.3M1213.8 83.8L1201.2 96.3M1207.5 83.8V96.3"/><path d="M1208.8 82.7L1221.2 95.2M1221.2 82.7L1208.8 95.2M1215 82.7V95.2"/><path d="M1216.2 79.5L1228.8 92M1228.8 79.5L1216.2 92M1222.5 79.5V92"/><path d="M1223.8 81.1L1236.2 93.6M1236.2 81.1L1223.8 93.6M1230 81.1V93.6"/><path d="M1231.2 80.5L1243.8 93M1243.8 80.5L1231.2 93M1237.5 80.5V93"/><path d="M1238.8 84.7L1251.2 97.2M1251.2 84.7L1238.8 97.2M1245 84.7V97.2"/><path d="M1246.2 84.5L1258.8 97M1258.8 84.5L1246.2 97M1252.5 84.5V97"/><path d="M1253.8 84.7L1266.2 97.2M1266.2 84.7L1253.8 97.2M1260 84.7V97.2"/><path d="M1261.2 84.9L1273.8 97.4M1273.8 84.9L1261.2 97.4M1267.5 84.9V97.4"/><path d="M1268.8 84.6L1281.2 97.1M1281.2 84.6L1268.8 97.1M1275 84.6V97.1"/><path d="M1276.2 85.9L1288.8 98.4M1288.8 85.9L1276.2 98.4M1282.5 85.9V98.4"/><path d="M1283.8 85.2L1296.2 97.7M1296.2 85.2L1283.8 97.7M1290 85.2V97.7"/><path d="M1291.2 82.3L1303.8 94.8M1303.8 82.3L1291.2 94.8M1297.5 82.3V94.8"/><path d="M1298.8 85.8L1311.2 98.3M1311.2 85.8L1298.8 98.3M1305 85.8V98.3"/><path d="M1306.2 83.9L1318.8 96.4M1318.8 83.9L1306.2 96.4M1312.5 83.9V96.4"/><path d="M1313.8 85.6L1326.2 98.1M1326.2 85.6L1313.8 98.1M1320 85.6V98.1"/><path d="M1321.2 84.7L1333.8 97.2M1333.8 84.7L1321.2 97.2M1327.5 84.7V97.2"/><path d="M1328.8 84.1L1341.2 96.6M1341.2 84.1L1328.8 96.6M1335 84.1V96.6"/><path d="M1336.2 83.8L1348.8 96.3M1348.8 83.8L1336.2 96.3M1342.5 83.8V96.3"/><path d="M1343.8 84.8L1356.2 97.2M1356.2 84.8L1343.8 97.2M1350 84.8V97.2"/><path d="M1351.2 84.4L1363.8 96.9M1363.8 84.4L1351.2 96.9M1357.5 84.4V96.9"/><path d="M1358.8 83.9L1371.2 96.4M1371.2 83.9L1358.8 96.4M1365 83.9V96.4"/><path d="M1366.2 82.8L1378.8 95.3M1378.8 82.8L1366.2 95.3M1372.5 82.8V95.3"/><path d="M1373.8 86.8L1386.2 99.3M1386.2 86.8L1373.8 99.3M1380 86.8V99.3"/><path d="M1381.2 86.8L1393.8 99.3M1393.8 86.8L1381.2 99.3M1387.5 86.8V99.3"/><path d="M1388.8 87.9L1401.2 100.4M1401.2 87.9L1388.8 100.4M1395 87.9V100.4"/><path d="M1396.2 86.4L1408.8 98.9M1408.8 86.4L1396.2 98.9M1402.5 86.4V98.9"/><path d="M1403.8 85.7L1416.2 98.2M1416.2 85.7L1403.8 98.2M1410 85.7V98.2"/><path d="M1411.2 86.8L1423.8 99.3M1423.8 86.8L1411.2 99.3M1417.5 86.8V99.3"/><path d="M1418.8 83.5L1431.2 96M1431.2 83.5L1418.8 96M1425 83.5V96"/><path d="M1426.2 86.6L1438.8 99.1M1438.8 86.6L1426.2 99.1M1432.5 86.6V99.1"/><path d="M1433.8 85.4L1446.2 97.9M1446.2 85.4L1433.8 97.9M1440 85.4V97.9"/><path d="M1441.2 83.9L1453.8 96.4M1453.8 83.9L1441.2 96.4M1447.5 83.9V96.4"/><path d="M1448.8 84.2L1461.2 96.7M1461.2 84.2L1448.8 96.7M1455 84.2V96.7"/><path d="M1456.2 86L1468.8 98.5M1468.8 86L1456.2 98.5M1462.5 86V98.5"/><path d="M1463.8 84.6L1476.2 97.1M1476.2 84.6L1463.8 97.1M1470 84.6V97.1"/><path d="M1471.2 85.8L1483.8 98.3M1483.8 85.8L1471.2 98.3M1477.5 85.8V98.3"/><path d="M1478.8 86.7L1491.2 99.2M1491.2 86.7L1478.8 99.2M1485 86.7V99.2"/><path d="M1486.2 85.6L1498.8 98.1M1498.8 85.6L1486.2 98.1M1492.5 85.6V98.1"/><path d="M1493.8 84.2L1506.2 96.7M1506.2 84.2L1493.8 96.7M1500 84.2V96.7"/><path d="M1501.2 86.3L1513.8 98.8M1513.8 86.3L1501.2 98.8M1507.5 86.3V98.8"/><path d="M1508.8 85L1521.2 97.5M1521.2 85L1508.8 97.5M1515 85V97.5"/><path d="M1516.2 85L1528.8 97.5M1528.8 85L1516.2 97.5M1522.5 85V97.5"/><path d="M1523.8 84.9L1536.2 97.4M1536.2 84.9L1523.8 97.4M1530 84.9V97.4"/><path d="M1531.2 85.9L1543.8 98.4M1543.8 85.9L1531.2 98.4M1537.5 85.9V98.4"/><path d="M1538.8 86.8L1551.2 99.2M1551.2 86.8L1538.8 99.2M1545 86.8V99.2"/></g>
<polyline points="925.5,366 933,376 939.8,375.5 946.5,375 953.2,374.5 960,374 967,373.2 974,372.4 981,371.6 988,370.8 995,370 1001,267.6 1008.9,157 1017.1,107.4 1022.7,75.6 1030,68 1038,64 1046,61.5 1054,60 1061.7,57.8 1069.3,59.9 1077,59.2 1084.7,59.9 1092.3,56.5 1100,57 1107.4,55.9 1114.8,57.9 1122.2,57.5 1129.6,55.8 1137,57.4 1144.4,56.1 1151.9,57.7 1159.3,54.7 1166.7,55.1 1174.1,58 1181.5,55.6 1188.9,55.1 1196.3,57.4 1203.7,56.5 1211.1,54.3 1218.5,56 1225.9,56.5 1233.3,54.2 1240.7,56.3 1248.1,53.9 1255.6,54.7 1263,53.5 1270.4,54 1277.8,57.3 1285.2,54.7 1292.6,57.2 1300,55 1307.4,54.7 1314.8,55.4 1322.3,56.5 1329.7,55.6 1337.1,53 1344.5,55 1352,55.2 1359.4,53.1 1366.8,52.7 1374.2,56 1381.7,54.4 1389.1,52.9 1396.5,54 1403.9,52.9 1411.4,55.4 1418.8,54 1426.2,52.2 1433.6,55.3 1441.1,52 1448.5,52.8 1455.9,51.7 1463.3,54.7 1470.8,51.9 1478.2,53.7 1485.6,51.7 1493,53.3 1500.5,54.2 1507.9,53.5 1515.3,53 1522.7,53.1 1530.2,52.8 1537.6,53.5 1545,53" fill="none" stroke="#F0914A" stroke-width="4.6" stroke-linejoin="round" stroke-linecap="round" /><g fill="#F0914A" stroke="#EE8A40" stroke-width="1" stroke-linejoin="miter"><circle cx="925.5" cy="366" r="6.8"/><circle cx="933" cy="376" r="6.8"/><circle cx="939.8" cy="375.5" r="6.8"/><circle cx="946.5" cy="375" r="6.8"/><circle cx="953.2" cy="374.5" r="6.8"/><circle cx="960" cy="374" r="6.8"/><circle cx="967" cy="373.2" r="6.8"/><circle cx="974" cy="372.4" r="6.8"/><circle cx="981" cy="371.6" r="6.8"/><circle cx="988" cy="370.8" r="6.8"/><circle cx="995" cy="370" r="6.8"/><circle cx="1001" cy="267.6" r="6.8"/><circle cx="1008.9" cy="157" r="6.8"/><circle cx="1017.1" cy="107.4" r="6.8"/><circle cx="1022.7" cy="75.6" r="6.8"/><circle cx="1030" cy="68" r="6.8"/><circle cx="1038" cy="64" r="6.8"/><circle cx="1046" cy="61.5" r="6.8"/><circle cx="1054" cy="60" r="6.8"/><circle cx="1061.7" cy="57.8" r="6.8"/><circle cx="1069.3" cy="59.9" r="6.8"/><circle cx="1077" cy="59.2" r="6.8"/><circle cx="1084.7" cy="59.9" r="6.8"/><circle cx="1092.3" cy="56.5" r="6.8"/><circle cx="1100" cy="57" r="6.8"/><circle cx="1107.4" cy="55.9" r="6.8"/><circle cx="1114.8" cy="57.9" r="6.8"/><circle cx="1122.2" cy="57.5" r="6.8"/><circle cx="1129.6" cy="55.8" r="6.8"/><circle cx="1137" cy="57.4" r="6.8"/><circle cx="1144.4" cy="56.1" r="6.8"/><circle cx="1151.9" cy="57.7" r="6.8"/><circle cx="1159.3" cy="54.7" r="6.8"/><circle cx="1166.7" cy="55.1" r="6.8"/><circle cx="1174.1" cy="58" r="6.8"/><circle cx="1181.5" cy="55.6" r="6.8"/><circle cx="1188.9" cy="55.1" r="6.8"/><circle cx="1196.3" cy="57.4" r="6.8"/><circle cx="1203.7" cy="56.5" r="6.8"/><circle cx="1211.1" cy="54.3" r="6.8"/><circle cx="1218.5" cy="56" r="6.8"/><circle cx="1225.9" cy="56.5" r="6.8"/><circle cx="1233.3" cy="54.2" r="6.8"/><circle cx="1240.7" cy="56.3" r="6.8"/><circle cx="1248.1" cy="53.9" r="6.8"/><circle cx="1255.6" cy="54.7" r="6.8"/><circle cx="1263" cy="53.5" r="6.8"/><circle cx="1270.4" cy="54" r="6.8"/><circle cx="1277.8" cy="57.3" r="6.8"/><circle cx="1285.2" cy="54.7" r="6.8"/><circle cx="1292.6" cy="57.2" r="6.8"/><circle cx="1300" cy="55" r="6.8"/><circle cx="1307.4" cy="54.7" r="6.8"/><circle cx="1314.8" cy="55.4" r="6.8"/><circle cx="1322.3" cy="56.5" r="6.8"/><circle cx="1329.7" cy="55.6" r="6.8"/><circle cx="1337.1" cy="53" r="6.8"/><circle cx="1344.5" cy="55" r="6.8"/><circle cx="1352" cy="55.2" r="6.8"/><circle cx="1359.4" cy="53.1" r="6.8"/><circle cx="1366.8" cy="52.7" r="6.8"/><circle cx="1374.2" cy="56" r="6.8"/><circle cx="1381.7" cy="54.4" r="6.8"/><circle cx="1389.1" cy="52.9" r="6.8"/><circle cx="1396.5" cy="54" r="6.8"/><circle cx="1403.9" cy="52.9" r="6.8"/><circle cx="1411.4" cy="55.4" r="6.8"/><circle cx="1418.8" cy="54" r="6.8"/><circle cx="1426.2" cy="52.2" r="6.8"/><circle cx="1433.6" cy="55.3" r="6.8"/><circle cx="1441.1" cy="52" r="6.8"/><circle cx="1448.5" cy="52.8" r="6.8"/><circle cx="1455.9" cy="51.7" r="6.8"/><circle cx="1463.3" cy="54.7" r="6.8"/><circle cx="1470.8" cy="51.9" r="6.8"/><circle cx="1478.2" cy="53.7" r="6.8"/><circle cx="1485.6" cy="51.7" r="6.8"/><circle cx="1493" cy="53.3" r="6.8"/><circle cx="1500.5" cy="54.2" r="6.8"/><circle cx="1507.9" cy="53.5" r="6.8"/><circle cx="1515.3" cy="53" r="6.8"/><circle cx="1522.7" cy="53.1" r="6.8"/><circle cx="1530.2" cy="52.8" r="6.8"/><circle cx="1537.6" cy="53.5" r="6.8"/><circle cx="1545" cy="53" r="6.8"/></g>
<polyline points="918.8,380 926,379 933.5,379 940.9,379 948.4,379 955.8,379 963.3,379 970.7,379 978.2,379 985.7,379 993.1,378.9 1000.6,378.9 1008,378.9 1015.5,378.9 1023,378.9 1030.4,378.9 1037.9,378.9 1045.3,378.9 1052.8,378.9 1060.2,378.9 1067.7,378.9 1075.2,378.9 1082.6,378.9 1090.1,378.9 1097.5,378.9 1105,378.9 1112.4,378.8 1119.9,378.8 1127.4,378.8 1134.8,378.8 1142.3,378.8 1149.7,378.8 1157.2,378.8 1164.7,378.8 1172.1,378.8 1179.6,378.8 1187,378.8 1194.5,378.8 1201.9,378.8 1209.4,378.8 1216.9,378.8 1224.3,378.8 1231.8,378.8 1239.2,378.7 1246.7,378.7 1254.1,378.7 1261.6,378.7 1269.1,378.7 1276.5,378.7 1284,378.7 1291.4,378.7 1298.9,378.7 1306.3,378.7 1313.8,378.7 1321.3,378.7 1328.7,378.7 1336.2,378.7 1343.6,378.7 1351.1,378.7 1358.6,378.7 1366,378.6 1373.5,378.6 1380.9,378.6 1388.4,378.6 1395.8,378.6 1403.3,378.6 1410.8,378.6 1418.2,378.6 1425.7,378.6 1433.1,378.6 1440.6,378.6 1448,378.6 1455.5,378.6 1463,378.6 1470.4,378.6 1477.9,378.6 1485.3,378.5 1492.8,378.5 1500.3,378.5 1507.7,378.5 1515.2,378.5 1522.6,378.5 1530.1,378.5 1537.5,378.5 1545,378.5" fill="none" stroke="#F8CBAD" stroke-width="7" stroke-linejoin="round" stroke-linecap="round" /><g fill="#F8CBAD" stroke="#F6C3A2" stroke-width="1" stroke-linejoin="miter"><path d="M918.8 373.7L924.8 385.1H912.8Z"/><path d="M926 372.7L932 384.1H920Z"/><path d="M933.5 372.7L939.5 384.1H927.5Z"/><path d="M940.9 372.7L946.9 384.1H934.9Z"/><path d="M948.4 372.7L954.4 384.1H942.4Z"/><path d="M955.8 372.7L961.8 384.1H949.8Z"/><path d="M963.3 372.7L969.3 384.1H957.3Z"/><path d="M970.7 372.7L976.7 384.1H964.7Z"/><path d="M978.2 372.7L984.2 384.1H972.2Z"/><path d="M985.7 372.7L991.7 384.1H979.7Z"/><path d="M993.1 372.6L999.1 384H987.1Z"/><path d="M1000.6 372.6L1006.6 384H994.6Z"/><path d="M1008 372.6L1014 384H1002Z"/><path d="M1015.5 372.6L1021.5 384H1009.5Z"/><path d="M1023 372.6L1029 384H1017Z"/><path d="M1030.4 372.6L1036.4 384H1024.4Z"/><path d="M1037.9 372.6L1043.9 384H1031.9Z"/><path d="M1045.3 372.6L1051.3 384H1039.3Z"/><path d="M1052.8 372.6L1058.8 384H1046.8Z"/><path d="M1060.2 372.6L1066.2 384H1054.2Z"/><path d="M1067.7 372.6L1073.7 384H1061.7Z"/><path d="M1075.2 372.6L1081.2 384H1069.2Z"/><path d="M1082.6 372.6L1088.6 384H1076.6Z"/><path d="M1090.1 372.6L1096.1 384H1084.1Z"/><path d="M1097.5 372.6L1103.5 384H1091.5Z"/><path d="M1105 372.6L1111 384H1099Z"/><path d="M1112.4 372.5L1118.4 383.9H1106.4Z"/><path d="M1119.9 372.5L1125.9 383.9H1113.9Z"/><path d="M1127.4 372.5L1133.4 383.9H1121.4Z"/><path d="M1134.8 372.5L1140.8 383.9H1128.8Z"/><path d="M1142.3 372.5L1148.3 383.9H1136.3Z"/><path d="M1149.7 372.5L1155.7 383.9H1143.7Z"/><path d="M1157.2 372.5L1163.2 383.9H1151.2Z"/><path d="M1164.7 372.5L1170.7 383.9H1158.7Z"/><path d="M1172.1 372.5L1178.1 383.9H1166.1Z"/><path d="M1179.6 372.5L1185.6 383.9H1173.6Z"/><path d="M1187 372.5L1193 383.9H1181Z"/><path d="M1194.5 372.5L1200.5 383.9H1188.5Z"/><path d="M1201.9 372.5L1207.9 383.9H1195.9Z"/><path d="M1209.4 372.5L1215.4 383.9H1203.4Z"/><path d="M1216.9 372.5L1222.9 383.9H1210.9Z"/><path d="M1224.3 372.5L1230.3 383.9H1218.3Z"/><path d="M1231.8 372.5L1237.8 383.9H1225.8Z"/><path d="M1239.2 372.4L1245.2 383.8H1233.2Z"/><path d="M1246.7 372.4L1252.7 383.8H1240.7Z"/><path d="M1254.1 372.4L1260.1 383.8H1248.1Z"/><path d="M1261.6 372.4L1267.6 383.8H1255.6Z"/><path d="M1269.1 372.4L1275.1 383.8H1263.1Z"/><path d="M1276.5 372.4L1282.5 383.8H1270.5Z"/><path d="M1284 372.4L1290 383.8H1278Z"/><path d="M1291.4 372.4L1297.4 383.8H1285.4Z"/><path d="M1298.9 372.4L1304.9 383.8H1292.9Z"/><path d="M1306.3 372.4L1312.3 383.8H1300.3Z"/><path d="M1313.8 372.4L1319.8 383.8H1307.8Z"/><path d="M1321.3 372.4L1327.3 383.8H1315.3Z"/><path d="M1328.7 372.4L1334.7 383.8H1322.7Z"/><path d="M1336.2 372.4L1342.2 383.8H1330.2Z"/><path d="M1343.6 372.4L1349.6 383.8H1337.6Z"/><path d="M1351.1 372.4L1357.1 383.8H1345.1Z"/><path d="M1358.6 372.4L1364.6 383.8H1352.6Z"/><path d="M1366 372.3L1372 383.7H1360Z"/><path d="M1373.5 372.3L1379.5 383.7H1367.5Z"/><path d="M1380.9 372.3L1386.9 383.7H1374.9Z"/><path d="M1388.4 372.3L1394.4 383.7H1382.4Z"/><path d="M1395.8 372.3L1401.8 383.7H1389.8Z"/><path d="M1403.3 372.3L1409.3 383.7H1397.3Z"/><path d="M1410.8 372.3L1416.8 383.7H1404.8Z"/><path d="M1418.2 372.3L1424.2 383.7H1412.2Z"/><path d="M1425.7 372.3L1431.7 383.7H1419.7Z"/><path d="M1433.1 372.3L1439.1 383.7H1427.1Z"/><path d="M1440.6 372.3L1446.6 383.7H1434.6Z"/><path d="M1448 372.3L1454 383.7H1442Z"/><path d="M1455.5 372.3L1461.5 383.7H1449.5Z"/><path d="M1463 372.3L1469 383.7H1457Z"/><path d="M1470.4 372.3L1476.4 383.7H1464.4Z"/><path d="M1477.9 372.3L1483.9 383.7H1471.9Z"/><path d="M1485.3 372.2L1491.3 383.6H1479.3Z"/><path d="M1492.8 372.2L1498.8 383.6H1486.8Z"/><path d="M1500.3 372.2L1506.3 383.6H1494.3Z"/><path d="M1507.7 372.2L1513.7 383.6H1501.7Z"/><path d="M1515.2 372.2L1521.2 383.6H1509.2Z"/><path d="M1522.6 372.2L1528.6 383.6H1516.6Z"/><path d="M1530.1 372.2L1536.1 383.6H1524.1Z"/><path d="M1537.5 372.2L1543.5 383.6H1531.5Z"/><path d="M1545 372.2L1551 383.6H1539Z"/></g>
<polyline points="926,838 934,848.5 941.7,848.5 949.4,848.4 957.1,848.4 964.8,848.4 972.5,848.4 980.2,848.3 987.9,848.3 995.6,848.3 1003.4,848.2 1011.1,848.2 1018.8,848.2 1026.5,848.1 1034.2,848.1 1041.9,848.1 1049.6,848.1 1057.3,848 1065,848 1072,845 1078,838 1081.2,828.1 1085,805 1087.4,794.5 1095,794.5 1100,794.3 1106,794.1 1110.4,767 1116.1,742.4 1120.5,713.5 1125,695 1132,681 1137,674 1141.8,668.4 1147.6,653.9 1153.4,646.7 1159.1,649.6 1166.3,647.7 1173.5,647.8 1180.6,646.6 1187.8,645.1 1195,644 1202.6,642.8 1210.1,643.7 1217.7,643.2 1225.2,642 1232.8,641.5 1240.3,640.3 1247.9,639.2 1255.4,639.6 1263,639.4 1270.6,638.8 1278.2,636.8 1285.8,637.8 1293.3,635.7 1300.9,635 1308.5,633.8 1316.1,635.3 1323.7,633.9 1331.2,633.5 1338.8,632.1 1346.4,629.9 1354,630.3 1361.7,628.8 1369.3,628.2 1377,627.1 1384.6,626.8 1392.1,629.4 1399.7,628.6 1407.2,628.7 1414.8,630.9 1422.3,629.9 1429.9,632.4 1437.4,631.9 1445,632.6 1452.7,632.9 1460.4,632.6 1468.1,633.1 1475.8,632.5 1483.5,632.3 1491.2,634.5 1498.8,633.1 1506.5,634.6 1514.2,633.4 1521.9,635.4 1529.6,635.4 1537.3,635.2 1545,634.8" fill="none" stroke="#3A66BA" stroke-width="4.5" stroke-linejoin="round" stroke-linecap="round" /><g fill="none" stroke="#3A66BA" stroke-width="3"><path d="M919 838H933"/><path d="M927 848.5H941"/><path d="M934.7 848.5H948.7"/><path d="M942.4 848.4H956.4"/><path d="M950.1 848.4H964.1"/><path d="M957.8 848.4H971.8"/><path d="M965.5 848.4H979.5"/><path d="M973.2 848.3H987.2"/><path d="M980.9 848.3H994.9"/><path d="M988.6 848.3H1002.6"/><path d="M996.4 848.2H1010.4"/><path d="M1004.1 848.2H1018.1"/><path d="M1011.8 848.2H1025.8"/><path d="M1019.5 848.1H1033.5"/><path d="M1027.2 848.1H1041.2"/><path d="M1034.9 848.1H1048.9"/><path d="M1042.6 848.1H1056.6"/><path d="M1050.3 848H1064.3"/><path d="M1058 848H1072"/><path d="M1065 845H1079"/><path d="M1074.2 828.1H1088.2"/><path d="M1080.4 794.5H1094.4"/><path d="M1088 794.5H1102"/><path d="M1099 794.1H1113"/><path d="M1103.4 767H1117.4"/><path d="M1113.5 713.5H1127.5"/><path d="M1125 681H1139"/><path d="M1134.8 668.4H1148.8"/><path d="M1140.6 653.9H1154.6"/><path d="M1146.4 646.7H1160.4"/><path d="M1152.1 649.6H1166.1"/><path d="M1159.3 647.7H1173.3"/><path d="M1166.5 647.8H1180.5"/><path d="M1173.6 646.6H1187.6"/><path d="M1180.8 645.1H1194.8"/><path d="M1188 644H1202"/><path d="M1195.6 642.8H1209.6"/><path d="M1203.1 643.7H1217.1"/><path d="M1210.7 643.2H1224.7"/><path d="M1218.2 642H1232.2"/><path d="M1225.8 641.5H1239.8"/><path d="M1233.3 640.3H1247.3"/><path d="M1240.9 639.2H1254.9"/><path d="M1248.4 639.6H1262.4"/><path d="M1256 639.4H1270"/><path d="M1263.6 638.8H1277.6"/><path d="M1271.2 636.8H1285.2"/><path d="M1278.8 637.8H1292.8"/><path d="M1286.3 635.7H1300.3"/><path d="M1293.9 635H1307.9"/><path d="M1301.5 633.8H1315.5"/><path d="M1309.1 635.3H1323.1"/><path d="M1316.7 633.9H1330.7"/><path d="M1324.2 633.5H1338.2"/><path d="M1331.8 632.1H1345.8"/><path d="M1339.4 629.9H1353.4"/><path d="M1347 630.3H1361"/><path d="M1354.7 628.8H1368.7"/><path d="M1362.3 628.2H1376.3"/><path d="M1370 627.1H1384"/><path d="M1377.6 626.8H1391.6"/><path d="M1385.1 629.4H1399.1"/><path d="M1392.7 628.6H1406.7"/><path d="M1400.2 628.7H1414.2"/><path d="M1407.8 630.9H1421.8"/><path d="M1415.3 629.9H1429.3"/><path d="M1422.9 632.4H1436.9"/><path d="M1430.4 631.9H1444.4"/><path d="M1438 632.6H1452"/><path d="M1445.7 632.9H1459.7"/><path d="M1453.4 632.6H1467.4"/><path d="M1461.1 633.1H1475.1"/><path d="M1468.8 632.5H1482.8"/><path d="M1476.5 632.3H1490.5"/><path d="M1484.2 634.5H1498.2"/><path d="M1491.8 633.1H1505.8"/><path d="M1499.5 634.6H1513.5"/><path d="M1507.2 633.4H1521.2"/><path d="M1514.9 635.4H1528.9"/><path d="M1522.6 635.4H1536.6"/><path d="M1530.3 635.2H1544.3"/><path d="M1538 634.8H1552"/></g>
<polyline points="926,836 934,848.5 941.7,848.4 949.4,848.3 957.1,848.3 964.8,848.2 972.5,848.1 980.2,848 987.8,848 995.5,847.9 1003.2,847.8 1010.9,847.7 1018.6,847.7 1026.3,847.6 1034,847.5 1040,835 1045,800 1050.2,752 1058,751.8 1065.8,751.7 1073.6,751.5 1081.4,751.3 1089.3,751.2 1097.1,751 1104.9,750.8 1112.7,750.7 1120.5,750.5 1123,725 1124.1,705 1127.3,680 1129.5,655 1131.7,630.5 1135,614 1139.3,600.5 1141.5,588 1143.5,577 1146.9,576.5 1154.5,576.3 1160.6,576 1162.1,566 1169.7,565.5 1177.3,565 1184.9,561 1192.5,559.5 1200,558.8 1209,556.1 1218,551 1225.6,549.9 1233.1,549.5 1240.7,551.9 1248.2,549.6 1255.8,549.3 1263.3,550.6 1270.9,549.7 1278.4,550.9 1286,549.1 1293.6,550.9 1301.1,549.1 1308.7,549.7 1316.2,550.4 1323.8,549.6 1331.3,550.1 1338.9,549.4 1346.4,547.6 1354,548.6 1361.6,548.4 1369.2,546.5 1376.8,544.7 1384.3,543.2 1391.9,543.8 1399.5,541.7 1407.1,543.1 1414.7,545.1 1422.2,545.9 1429.8,547.5 1437.4,547.6 1445,548.6 1452.7,549.5 1460.4,549.6 1468.1,549 1475.8,551.1 1483.5,549.8 1491.2,551.4 1498.8,552.2 1506.5,551.7 1514.2,550.7 1521.9,552.8 1529.6,552.8 1537.3,551.8 1545,553" fill="none" stroke="#3A66BA" stroke-width="4.5" stroke-linejoin="round" stroke-linecap="round" /><g fill="none" stroke="#3A66BA" stroke-width="3"><path d="M919 836H933"/><path d="M927 848.5H941"/><path d="M934.7 848.4H948.7"/><path d="M942.4 848.3H956.4"/><path d="M950.1 848.3H964.1"/><path d="M957.8 848.2H971.8"/><path d="M965.5 848.1H979.5"/><path d="M973.2 848H987.2"/><path d="M980.8 848H994.8"/><path d="M988.5 847.9H1002.5"/><path d="M996.2 847.8H1010.2"/><path d="M1003.9 847.7H1017.9"/><path d="M1011.6 847.7H1025.6"/><path d="M1019.3 847.6H1033.3"/><path d="M1027 847.5H1041"/><path d="M1033 835H1047"/><path d="M1038 800H1052"/><path d="M1043.2 752H1057.2"/><path d="M1051 751.8H1065"/><path d="M1058.8 751.7H1072.8"/><path d="M1066.6 751.5H1080.6"/><path d="M1074.4 751.3H1088.4"/><path d="M1082.3 751.2H1096.3"/><path d="M1090.1 751H1104.1"/><path d="M1097.9 750.8H1111.9"/><path d="M1105.7 750.7H1119.7"/><path d="M1113.5 750.5H1127.5"/><path d="M1117.1 705H1131.1"/><path d="M1124.7 630.5H1138.7"/><path d="M1132.3 600.5H1146.3"/><path d="M1139.9 576.5H1153.9"/><path d="M1147.5 576.3H1161.5"/><path d="M1155.1 566H1169.1"/><path d="M1162.7 565.5H1176.7"/><path d="M1170.3 565H1184.3"/><path d="M1177.9 561H1191.9"/><path d="M1185.5 559.5H1199.5"/><path d="M1193 558.8H1207"/><path d="M1202 556.1H1216"/><path d="M1211 551H1225"/><path d="M1218.6 549.9H1232.6"/><path d="M1226.1 549.5H1240.1"/><path d="M1233.7 551.9H1247.7"/><path d="M1241.2 549.6H1255.2"/><path d="M1248.8 549.3H1262.8"/><path d="M1256.3 550.6H1270.3"/><path d="M1263.9 549.7H1277.9"/><path d="M1271.4 550.9H1285.4"/><path d="M1279 549.1H1293"/><path d="M1286.6 550.9H1300.6"/><path d="M1294.1 549.1H1308.1"/><path d="M1301.7 549.7H1315.7"/><path d="M1309.2 550.4H1323.2"/><path d="M1316.8 549.6H1330.8"/><path d="M1324.3 550.1H1338.3"/><path d="M1331.9 549.4H1345.9"/><path d="M1339.4 547.6H1353.4"/><path d="M1347 548.6H1361"/><path d="M1354.6 548.4H1368.6"/><path d="M1362.2 546.5H1376.2"/><path d="M1369.8 544.7H1383.8"/><path d="M1377.3 543.2H1391.3"/><path d="M1384.9 543.8H1398.9"/><path d="M1392.5 541.7H1406.5"/><path d="M1400.1 543.1H1414.1"/><path d="M1407.7 545.1H1421.7"/><path d="M1415.2 545.9H1429.2"/><path d="M1422.8 547.5H1436.8"/><path d="M1430.4 547.6H1444.4"/><path d="M1438 548.6H1452"/><path d="M1445.7 549.5H1459.7"/><path d="M1453.4 549.6H1467.4"/><path d="M1461.1 549H1475.1"/><path d="M1468.8 551.1H1482.8"/><path d="M1476.5 549.8H1490.5"/><path d="M1484.2 551.4H1498.2"/><path d="M1491.8 552.2H1505.8"/><path d="M1499.5 551.7H1513.5"/><path d="M1507.2 550.7H1521.2"/><path d="M1514.9 552.8H1528.9"/><path d="M1522.6 552.8H1536.6"/><path d="M1530.3 551.8H1544.3"/><path d="M1538 553H1552"/></g>
<polyline points="926,834 934,849 941.4,849 948.8,848.9 956.2,848.9 963.6,848.9 971.1,848.9 978.5,848.8 985.9,848.8 993.3,848.8 1000.7,848.7 1008.1,848.7 1015.5,848.7 1022.9,848.6 1030.4,848.6 1037.8,848.6 1045.2,848.6 1052.6,848.5 1060,848.5 1065.7,845 1070.9,805.5 1077,706.4 1085,705.9 1093,705.3 1101,704.8 1107.5,616.6 1114.7,560.2 1123.4,571.8 1130.6,545.8 1137.8,542.9 1144.8,531.9 1154.1,530.9 1162.4,531.9 1168.5,538.1 1176,539.7 1183.6,539.8 1191.1,539.6 1198.6,536.7 1206.2,538.6 1213.7,538 1221.2,538.4 1228.7,537 1236.3,537.2 1243.8,538.2 1251.3,537.4 1258.9,538.3 1266.4,536.7 1273.9,537 1281.5,539.2 1289,538.2 1296.5,538.6 1304,539.4 1311.6,538.1 1319.1,537 1326.6,539.7 1334.2,539 1341.7,539.3 1349.2,539.2 1356.8,540.4 1364.3,538.3 1371.8,539.7 1379.3,538.4 1386.9,539.1 1394.4,539.5 1401.9,538.2 1409.5,537.4 1417,538.9 1424.5,539.8 1432,539.3 1439.6,538.8 1447.1,539.6 1454.6,537.9 1462.2,538 1469.7,538.5 1477.2,540.3 1484.8,538.1 1492.3,537.8 1499.8,537.8 1507.3,537.6 1514.9,538.5 1522.4,539.6 1529.9,540.5 1537.5,538.8 1545,539.4" fill="none" stroke="#2F5AA5" stroke-width="4.5" stroke-linejoin="round" stroke-linecap="round" /><g fill="#2F5BA5" stroke="#284F98" stroke-width="0.8" stroke-linejoin="miter"><path d="M926 827L933 834L926 841L919 834Z"/><path d="M934 842L941 849L934 856L927 849Z"/><path d="M941.4 842L948.4 849L941.4 856L934.4 849Z"/><path d="M948.8 841.9L955.8 848.9L948.8 855.9L941.8 848.9Z"/><path d="M956.2 841.9L963.2 848.9L956.2 855.9L949.2 848.9Z"/><path d="M963.6 841.9L970.6 848.9L963.6 855.9L956.6 848.9Z"/><path d="M971.1 841.9L978.1 848.9L971.1 855.9L964.1 848.9Z"/><path d="M978.5 841.8L985.5 848.8L978.5 855.8L971.5 848.8Z"/><path d="M985.9 841.8L992.9 848.8L985.9 855.8L978.9 848.8Z"/><path d="M993.3 841.8L1000.3 848.8L993.3 855.8L986.3 848.8Z"/><path d="M1000.7 841.7L1007.7 848.7L1000.7 855.7L993.7 848.7Z"/><path d="M1008.1 841.7L1015.1 848.7L1008.1 855.7L1001.1 848.7Z"/><path d="M1015.5 841.7L1022.5 848.7L1015.5 855.7L1008.5 848.7Z"/><path d="M1022.9 841.6L1029.9 848.6L1022.9 855.6L1015.9 848.6Z"/><path d="M1030.4 841.6L1037.4 848.6L1030.4 855.6L1023.4 848.6Z"/><path d="M1037.8 841.6L1044.8 848.6L1037.8 855.6L1030.8 848.6Z"/><path d="M1045.2 841.6L1052.2 848.6L1045.2 855.6L1038.2 848.6Z"/><path d="M1052.6 841.5L1059.6 848.5L1052.6 855.5L1045.6 848.5Z"/><path d="M1060 841.5L1067 848.5L1060 855.5L1053 848.5Z"/><path d="M1065.7 838L1072.7 845L1065.7 852L1058.7 845Z"/><path d="M1070.9 798.5L1077.9 805.5L1070.9 812.5L1063.9 805.5Z"/><path d="M1077 699.4L1084 706.4L1077 713.4L1070 706.4Z"/><path d="M1085 698.9L1092 705.9L1085 712.9L1078 705.9Z"/><path d="M1093 698.3L1100 705.3L1093 712.3L1086 705.3Z"/><path d="M1101 697.8L1108 704.8L1101 711.8L1094 704.8Z"/><path d="M1107.5 609.6L1114.5 616.6L1107.5 623.6L1100.5 616.6Z"/><path d="M1114.7 553.2L1121.7 560.2L1114.7 567.2L1107.7 560.2Z"/><path d="M1123.4 564.8L1130.4 571.8L1123.4 578.8L1116.4 571.8Z"/><path d="M1130.6 538.8L1137.6 545.8L1130.6 552.8L1123.6 545.8Z"/><path d="M1137.8 535.9L1144.8 542.9L1137.8 549.9L1130.8 542.9Z"/><path d="M1144.8 524.9L1151.8 531.9L1144.8 538.9L1137.8 531.9Z"/><path d="M1154.1 523.9L1161.1 530.9L1154.1 537.9L1147.1 530.9Z"/><path d="M1162.4 524.9L1169.4 531.9L1162.4 538.9L1155.4 531.9Z"/><path d="M1168.5 531.1L1175.5 538.1L1168.5 545.1L1161.5 538.1Z"/><path d="M1176 532.7L1183 539.7L1176 546.7L1169 539.7Z"/><path d="M1183.6 532.8L1190.6 539.8L1183.6 546.8L1176.6 539.8Z"/><path d="M1191.1 532.6L1198.1 539.6L1191.1 546.6L1184.1 539.6Z"/><path d="M1198.6 529.7L1205.6 536.7L1198.6 543.7L1191.6 536.7Z"/><path d="M1206.2 531.6L1213.2 538.6L1206.2 545.6L1199.2 538.6Z"/><path d="M1213.7 531L1220.7 538L1213.7 545L1206.7 538Z"/><path d="M1221.2 531.4L1228.2 538.4L1221.2 545.4L1214.2 538.4Z"/><path d="M1228.7 530L1235.7 537L1228.7 544L1221.7 537Z"/><path d="M1236.3 530.2L1243.3 537.2L1236.3 544.2L1229.3 537.2Z"/><path d="M1243.8 531.2L1250.8 538.2L1243.8 545.2L1236.8 538.2Z"/><path d="M1251.3 530.4L1258.3 537.4L1251.3 544.4L1244.3 537.4Z"/><path d="M1258.9 531.3L1265.9 538.3L1258.9 545.3L1251.9 538.3Z"/><path d="M1266.4 529.7L1273.4 536.7L1266.4 543.7L1259.4 536.7Z"/><path d="M1273.9 530L1280.9 537L1273.9 544L1266.9 537Z"/><path d="M1281.5 532.2L1288.5 539.2L1281.5 546.2L1274.5 539.2Z"/><path d="M1289 531.2L1296 538.2L1289 545.2L1282 538.2Z"/><path d="M1296.5 531.6L1303.5 538.6L1296.5 545.6L1289.5 538.6Z"/><path d="M1304 532.4L1311 539.4L1304 546.4L1297 539.4Z"/><path d="M1311.6 531.1L1318.6 538.1L1311.6 545.1L1304.6 538.1Z"/><path d="M1319.1 530L1326.1 537L1319.1 544L1312.1 537Z"/><path d="M1326.6 532.7L1333.6 539.7L1326.6 546.7L1319.6 539.7Z"/><path d="M1334.2 532L1341.2 539L1334.2 546L1327.2 539Z"/><path d="M1341.7 532.3L1348.7 539.3L1341.7 546.3L1334.7 539.3Z"/><path d="M1349.2 532.2L1356.2 539.2L1349.2 546.2L1342.2 539.2Z"/><path d="M1356.8 533.4L1363.8 540.4L1356.8 547.4L1349.8 540.4Z"/><path d="M1364.3 531.3L1371.3 538.3L1364.3 545.3L1357.3 538.3Z"/><path d="M1371.8 532.7L1378.8 539.7L1371.8 546.7L1364.8 539.7Z"/><path d="M1379.3 531.4L1386.3 538.4L1379.3 545.4L1372.3 538.4Z"/><path d="M1386.9 532.1L1393.9 539.1L1386.9 546.1L1379.9 539.1Z"/><path d="M1394.4 532.5L1401.4 539.5L1394.4 546.5L1387.4 539.5Z"/><path d="M1401.9 531.2L1408.9 538.2L1401.9 545.2L1394.9 538.2Z"/><path d="M1409.5 530.4L1416.5 537.4L1409.5 544.4L1402.5 537.4Z"/><path d="M1417 531.9L1424 538.9L1417 545.9L1410 538.9Z"/><path d="M1424.5 532.8L1431.5 539.8L1424.5 546.8L1417.5 539.8Z"/><path d="M1432 532.3L1439 539.3L1432 546.3L1425 539.3Z"/><path d="M1439.6 531.8L1446.6 538.8L1439.6 545.8L1432.6 538.8Z"/><path d="M1447.1 532.6L1454.1 539.6L1447.1 546.6L1440.1 539.6Z"/><path d="M1454.6 530.9L1461.6 537.9L1454.6 544.9L1447.6 537.9Z"/><path d="M1462.2 531L1469.2 538L1462.2 545L1455.2 538Z"/><path d="M1469.7 531.5L1476.7 538.5L1469.7 545.5L1462.7 538.5Z"/><path d="M1477.2 533.3L1484.2 540.3L1477.2 547.3L1470.2 540.3Z"/><path d="M1484.8 531.1L1491.8 538.1L1484.8 545.1L1477.8 538.1Z"/><path d="M1492.3 530.8L1499.3 537.8L1492.3 544.8L1485.3 537.8Z"/><path d="M1499.8 530.8L1506.8 537.8L1499.8 544.8L1492.8 537.8Z"/><path d="M1507.3 530.6L1514.3 537.6L1507.3 544.6L1500.3 537.6Z"/><path d="M1514.9 531.5L1521.9 538.5L1514.9 545.5L1507.9 538.5Z"/><path d="M1522.4 532.6L1529.4 539.6L1522.4 546.6L1515.4 539.6Z"/><path d="M1529.9 533.5L1536.9 540.5L1529.9 547.5L1522.9 540.5Z"/><path d="M1537.5 531.8L1544.5 538.8L1537.5 545.8L1530.5 538.8Z"/><path d="M1545 532.4L1552 539.4L1545 546.4L1538 539.4Z"/></g>
<polyline points="926,832 934,848 941.3,847.8 948.7,847.7 956,847.5 963.3,847.3 970.7,847.2 978,847 985.3,846.8 992.7,846.7 1000,846.5 1007.3,846.3 1014.7,846.2 1022,846 1028.6,839.5 1031.7,827.1 1038.9,764.2 1046.1,670.3 1053.3,669.7 1060.5,669.2 1067.6,668.6 1074.8,668.1 1082,667.5 1088,620 1092,576 1100,575.8 1108,575.7 1116,575.5 1124,575.4 1132,575.2 1139.7,563.9 1145.9,525.7 1152,490 1158,485 1165.7,485.1 1173.3,485.4 1181,484.3 1188.6,485.6 1196.3,484.3 1203.9,485.1 1211.6,484.2 1219.2,485.3 1226.9,484.3 1234.6,485.2 1242.2,485.2 1249.9,485.3 1257.5,484.8 1265.2,485.5 1272.8,485.7 1280.5,484.3 1288.1,484.9 1295.8,485.7 1303.4,485.3 1311.1,484.8 1318.8,484.6 1326.4,485.7 1334.1,484.3 1341.7,485.4 1349.4,485.5 1357,484.4 1364.7,484.7 1372.3,484.7 1380,485 1387.5,485.2 1395,485.2 1402.5,486.2 1410,486.4 1417.5,485.6 1425,486.7 1432.5,485.6 1440,485.8 1447.5,486.9 1455,487.3 1462.5,487.5 1470,488 1477.5,487.9 1485,487.2 1492.5,488.1 1500,488.6 1507.5,487.4 1515,488.3 1522.5,487.9 1530,488.1 1537.5,488.8 1545,489" fill="none" stroke="#3D6AC0" stroke-width="4.5" stroke-linejoin="round" stroke-linecap="round" /><g fill="none" stroke="#3D6AC0" stroke-width="2.2"><path d="M919.5 832H932.5M926 825.5V838.5"/><path d="M927.5 848H940.5M934 841.5V854.5"/><path d="M934.8 847.8H947.8M941.3 841.3V854.3"/><path d="M942.2 847.7H955.2M948.7 841.2V854.2"/><path d="M949.5 847.5H962.5M956 841V854"/><path d="M956.8 847.3H969.8M963.3 840.8V853.8"/><path d="M964.2 847.2H977.2M970.7 840.7V853.7"/><path d="M971.5 847H984.5M978 840.5V853.5"/><path d="M978.8 846.8H991.8M985.3 840.3V853.3"/><path d="M986.2 846.7H999.2M992.7 840.2V853.2"/><path d="M993.5 846.5H1006.5M1000 840V853"/><path d="M1000.8 846.3H1013.8M1007.3 839.8V852.8"/><path d="M1008.2 846.2H1021.2M1014.7 839.7V852.7"/><path d="M1015.5 846H1028.5M1022 839.5V852.5"/><path d="M1022.1 839.5H1035.1M1028.6 833V846"/><path d="M1025.2 827.1H1038.2M1031.7 820.6V833.6"/><path d="M1032.4 764.2H1045.4M1038.9 757.7V770.7"/><path d="M1039.6 670.3H1052.6M1046.1 663.8V676.8"/><path d="M1046.8 669.7H1059.8M1053.3 663.2V676.2"/><path d="M1054 669.2H1067M1060.5 662.7V675.7"/><path d="M1061.1 668.6H1074.1M1067.6 662.1V675.1"/><path d="M1068.3 668.1H1081.3M1074.8 661.6V674.6"/><path d="M1075.5 667.5H1088.5M1082 661V674"/><path d="M1081.5 620H1094.5M1088 613.5V626.5"/><path d="M1085.5 576H1098.5M1092 569.5V582.5"/><path d="M1093.5 575.8H1106.5M1100 569.3V582.3"/><path d="M1101.5 575.7H1114.5M1108 569.2V582.2"/><path d="M1109.5 575.5H1122.5M1116 569V582"/><path d="M1117.5 575.4H1130.5M1124 568.9V581.9"/><path d="M1125.5 575.2H1138.5M1132 568.7V581.7"/><path d="M1133.2 563.9H1146.2M1139.7 557.4V570.4"/><path d="M1139.4 525.7H1152.4M1145.9 519.2V532.2"/><path d="M1145.5 490H1158.5M1152 483.5V496.5"/><path d="M1151.5 485H1164.5M1158 478.5V491.5"/><path d="M1159.2 485.1H1172.2M1165.7 478.6V491.6"/><path d="M1166.8 485.4H1179.8M1173.3 478.9V491.9"/><path d="M1174.5 484.3H1187.5M1181 477.8V490.8"/><path d="M1182.1 485.6H1195.1M1188.6 479.1V492.1"/><path d="M1189.8 484.3H1202.8M1196.3 477.8V490.8"/><path d="M1197.4 485.1H1210.4M1203.9 478.6V491.6"/><path d="M1205.1 484.2H1218.1M1211.6 477.7V490.7"/><path d="M1212.7 485.3H1225.7M1219.2 478.8V491.8"/><path d="M1220.4 484.3H1233.4M1226.9 477.8V490.8"/><path d="M1228.1 485.2H1241.1M1234.6 478.7V491.7"/><path d="M1235.7 485.2H1248.7M1242.2 478.7V491.7"/><path d="M1243.4 485.3H1256.4M1249.9 478.8V491.8"/><path d="M1251 484.8H1264M1257.5 478.3V491.3"/><path d="M1258.7 485.5H1271.7M1265.2 479V492"/><path d="M1266.3 485.7H1279.3M1272.8 479.2V492.2"/><path d="M1274 484.3H1287M1280.5 477.8V490.8"/><path d="M1281.6 484.9H1294.6M1288.1 478.4V491.4"/><path d="M1289.3 485.7H1302.3M1295.8 479.2V492.2"/><path d="M1296.9 485.3H1309.9M1303.4 478.8V491.8"/><path d="M1304.6 484.8H1317.6M1311.1 478.3V491.3"/><path d="M1312.3 484.6H1325.3M1318.8 478.1V491.1"/><path d="M1319.9 485.7H1332.9M1326.4 479.2V492.2"/><path d="M1327.6 484.3H1340.6M1334.1 477.8V490.8"/><path d="M1335.2 485.4H1348.2M1341.7 478.9V491.9"/><path d="M1342.9 485.5H1355.9M1349.4 479V492"/><path d="M1350.5 484.4H1363.5M1357 477.9V490.9"/><path d="M1358.2 484.7H1371.2M1364.7 478.2V491.2"/><path d="M1365.8 484.7H1378.8M1372.3 478.2V491.2"/><path d="M1373.5 485H1386.5M1380 478.5V491.5"/><path d="M1381 485.2H1394M1387.5 478.7V491.7"/><path d="M1388.5 485.2H1401.5M1395 478.7V491.7"/><path d="M1396 486.2H1409M1402.5 479.7V492.7"/><path d="M1403.5 486.4H1416.5M1410 479.9V492.9"/><path d="M1411 485.6H1424M1417.5 479.1V492.1"/><path d="M1418.5 486.7H1431.5M1425 480.2V493.2"/><path d="M1426 485.6H1439M1432.5 479.1V492.1"/><path d="M1433.5 485.8H1446.5M1440 479.3V492.3"/><path d="M1441 486.9H1454M1447.5 480.4V493.4"/><path d="M1448.5 487.3H1461.5M1455 480.8V493.8"/><path d="M1456 487.5H1469M1462.5 481V494"/><path d="M1463.5 488H1476.5M1470 481.5V494.5"/><path d="M1471 487.9H1484M1477.5 481.4V494.4"/><path d="M1478.5 487.2H1491.5M1485 480.7V493.7"/><path d="M1486 488.1H1499M1492.5 481.6V494.6"/><path d="M1493.5 488.6H1506.5M1500 482.1V495.1"/><path d="M1501 487.4H1514M1507.5 480.9V493.9"/><path d="M1508.5 488.3H1521.5M1515 481.8V494.8"/><path d="M1516 487.9H1529M1522.5 481.4V494.4"/><path d="M1523.5 488.1H1536.5M1530 481.6V494.6"/><path d="M1531 488.8H1544M1537.5 482.3V495.3"/><path d="M1538.5 489H1551.5M1545 482.5V495.5"/></g>
<polyline points="926,826 934,848 941.6,847.9 949.1,847.7 956.7,847.6 964.3,847.4 971.9,847.3 979.4,847.1 987,847 994.6,846.9 1002.1,846.7 1009.7,846.6 1017.3,846.4 1024.9,846.3 1032.4,846.1 1040,846 1047,835 1052,822 1057.5,807.5 1063.6,768.3 1069.8,730.1 1076,690 1081,652 1086,608.2 1093.2,538.1 1099.4,490.6 1106,485 1113.6,484.4 1121.2,485 1128.8,484.9 1136.4,484.2 1144.1,484.9 1151.7,484.7 1159.3,484 1166.9,485 1174.5,484.2 1182.1,484.3 1189.7,484.4 1197.3,484.6 1204.9,484 1212.6,484.7 1220.2,484.9 1227.8,484.5 1235.4,484.9 1243,484.6 1250.6,484.9 1258.2,484.1 1265.8,484.3 1273.4,484.5 1281.1,484 1288.7,485.1 1296.3,484.7 1303.9,484 1311.5,484.6 1319.1,484.4 1326.7,484.1 1334.3,484.1 1341.9,484.5 1349.6,484 1357.2,484.6 1364.8,484.5 1372.4,484.1 1380,484.5 1387.5,484.9 1395,483.8 1402.5,483.9 1410,484.6 1417.5,483.8 1425,484 1432.5,484.1 1440,483.9 1447.5,483.9 1455,483.8 1462.5,483.7 1470,483.2 1477.5,484 1485,483.3 1492.5,482.9 1500,483.3 1507.5,483.7 1515,483.4 1522.5,483.2 1530,483.1 1537.5,482.7 1545,483" fill="none" stroke="#3D6AC0" stroke-width="4.5" stroke-linejoin="round" stroke-linecap="round" /><g fill="none" stroke="#3D6AC0" stroke-width="2"><path d="M919.8 819.8L932.2 832.2M932.2 819.8L919.8 832.2"/><path d="M927.8 841.8L940.2 854.2M940.2 841.8L927.8 854.2"/><path d="M935.3 841.6L947.8 854.1M947.8 841.6L935.3 854.1"/><path d="M942.9 841.5L955.4 854M955.4 841.5L942.9 854"/><path d="M950.5 841.3L963 853.8M963 841.3L950.5 853.8"/><path d="M958 841.2L970.5 853.7M970.5 841.2L958 853.7"/><path d="M965.6 841L978.1 853.5M978.1 841L965.6 853.5"/><path d="M973.2 840.9L985.7 853.4M985.7 840.9L973.2 853.4"/><path d="M980.8 840.8L993.2 853.2M993.2 840.8L980.8 853.2"/><path d="M988.3 840.6L1000.8 853.1M1000.8 840.6L988.3 853.1"/><path d="M995.9 840.5L1008.4 853M1008.4 840.5L995.9 853"/><path d="M1003.5 840.3L1016 852.8M1016 840.3L1003.5 852.8"/><path d="M1011 840.2L1023.5 852.7M1023.5 840.2L1011 852.7"/><path d="M1018.6 840L1031.1 852.5M1031.1 840L1018.6 852.5"/><path d="M1026.2 839.9L1038.7 852.4M1038.7 839.9L1026.2 852.4"/><path d="M1033.8 839.8L1046.2 852.2M1046.2 839.8L1033.8 852.2"/><path d="M1040.8 828.8L1053.2 841.2M1053.2 828.8L1040.8 841.2"/><path d="M1045.8 815.8L1058.2 828.2M1058.2 815.8L1045.8 828.2"/><path d="M1051.2 801.2L1063.8 813.8M1063.8 801.2L1051.2 813.8"/><path d="M1057.3 762L1069.8 774.5M1069.8 762L1057.3 774.5"/><path d="M1063.5 723.9L1076 736.4M1076 723.9L1063.5 736.4"/><path d="M1069.8 683.8L1082.2 696.2M1082.2 683.8L1069.8 696.2"/><path d="M1074.8 645.8L1087.2 658.2M1087.2 645.8L1074.8 658.2"/><path d="M1079.8 602L1092.2 614.5M1092.2 602L1079.8 614.5"/><path d="M1087 531.9L1099.5 544.4M1099.5 531.9L1087 544.4"/><path d="M1093.2 484.4L1105.7 496.9M1105.7 484.4L1093.2 496.9"/><path d="M1099.8 478.8L1112.2 491.2M1112.2 478.8L1099.8 491.2"/><path d="M1107.4 478.1L1119.9 490.6M1119.9 478.1L1107.4 490.6"/><path d="M1115 478.8L1127.5 491.3M1127.5 478.8L1115 491.3"/><path d="M1122.6 478.7L1135.1 491.2M1135.1 478.7L1122.6 491.2"/><path d="M1130.2 477.9L1142.7 490.4M1142.7 477.9L1130.2 490.4"/><path d="M1137.8 478.7L1150.3 491.2M1150.3 478.7L1137.8 491.2"/><path d="M1145.4 478.4L1157.9 490.9M1157.9 478.4L1145.4 490.9"/><path d="M1153 477.7L1165.5 490.2M1165.5 477.7L1153 490.2"/><path d="M1160.6 478.8L1173.1 491.3M1173.1 478.8L1160.6 491.3"/><path d="M1168.2 478L1180.8 490.5M1180.8 478L1168.2 490.5"/><path d="M1175.9 478L1188.4 490.5M1188.4 478L1175.9 490.5"/><path d="M1183.5 478.2L1196 490.7M1196 478.2L1183.5 490.7"/><path d="M1191.1 478.4L1203.6 490.9M1203.6 478.4L1191.1 490.9"/><path d="M1198.7 477.8L1211.2 490.3M1211.2 477.8L1198.7 490.3"/><path d="M1206.3 478.5L1218.8 491M1218.8 478.5L1206.3 491"/><path d="M1213.9 478.6L1226.4 491.1M1226.4 478.6L1213.9 491.1"/><path d="M1221.5 478.3L1234 490.8M1234 478.3L1221.5 490.8"/><path d="M1229.1 478.6L1241.6 491.1M1241.6 478.6L1229.1 491.1"/><path d="M1236.8 478.4L1249.2 490.9M1249.2 478.4L1236.8 490.9"/><path d="M1244.4 478.6L1256.9 491.1M1256.9 478.6L1244.4 491.1"/><path d="M1252 477.9L1264.5 490.4M1264.5 477.9L1252 490.4"/><path d="M1259.6 478.1L1272.1 490.6M1272.1 478.1L1259.6 490.6"/><path d="M1267.2 478.2L1279.7 490.7M1279.7 478.2L1267.2 490.7"/><path d="M1274.8 477.8L1287.3 490.3M1287.3 477.8L1274.8 490.3"/><path d="M1282.4 478.8L1294.9 491.3M1294.9 478.8L1282.4 491.3"/><path d="M1290 478.4L1302.5 490.9M1302.5 478.4L1290 490.9"/><path d="M1297.6 477.8L1310.1 490.3M1310.1 477.8L1297.6 490.3"/><path d="M1305.2 478.3L1317.8 490.8M1317.8 478.3L1305.2 490.8"/><path d="M1312.9 478.1L1325.4 490.6M1325.4 478.1L1312.9 490.6"/><path d="M1320.5 477.9L1333 490.4M1333 477.9L1320.5 490.4"/><path d="M1328.1 477.8L1340.6 490.3M1340.6 477.8L1328.1 490.3"/><path d="M1335.7 478.2L1348.2 490.7M1348.2 478.2L1335.7 490.7"/><path d="M1343.3 477.7L1355.8 490.2M1355.8 477.7L1343.3 490.2"/><path d="M1350.9 478.3L1363.4 490.8M1363.4 478.3L1350.9 490.8"/><path d="M1358.5 478.3L1371 490.8M1371 478.3L1358.5 490.8"/><path d="M1366.1 477.8L1378.6 490.3M1378.6 477.8L1366.1 490.3"/><path d="M1373.8 478.2L1386.2 490.8M1386.2 478.2L1373.8 490.8"/><path d="M1381.2 478.6L1393.8 491.1M1393.8 478.6L1381.2 491.1"/><path d="M1388.8 477.6L1401.2 490.1M1401.2 477.6L1388.8 490.1"/><path d="M1396.2 477.7L1408.8 490.2M1408.8 477.7L1396.2 490.2"/><path d="M1403.8 478.4L1416.2 490.9M1416.2 478.4L1403.8 490.9"/><path d="M1411.2 477.6L1423.8 490.1M1423.8 477.6L1411.2 490.1"/><path d="M1418.8 477.7L1431.2 490.2M1431.2 477.7L1418.8 490.2"/><path d="M1426.2 477.8L1438.8 490.3M1438.8 477.8L1426.2 490.3"/><path d="M1433.8 477.6L1446.2 490.1M1446.2 477.6L1433.8 490.1"/><path d="M1441.2 477.6L1453.8 490.1M1453.8 477.6L1441.2 490.1"/><path d="M1448.8 477.6L1461.2 490.1M1461.2 477.6L1448.8 490.1"/><path d="M1456.2 477.5L1468.8 490M1468.8 477.5L1456.2 490"/><path d="M1463.8 476.9L1476.2 489.4M1476.2 476.9L1463.8 489.4"/><path d="M1471.2 477.7L1483.8 490.2M1483.8 477.7L1471.2 490.2"/><path d="M1478.8 477L1491.2 489.5M1491.2 477L1478.8 489.5"/><path d="M1486.2 476.7L1498.8 489.2M1498.8 476.7L1486.2 489.2"/><path d="M1493.8 477L1506.2 489.5M1506.2 477L1493.8 489.5"/><path d="M1501.2 477.5L1513.8 490M1513.8 477.5L1501.2 490"/><path d="M1508.8 477.2L1521.2 489.7M1521.2 477.2L1508.8 489.7"/><path d="M1516.2 476.9L1528.8 489.4M1528.8 476.9L1516.2 489.4"/><path d="M1523.8 476.9L1536.2 489.4M1536.2 476.9L1523.8 489.4"/><path d="M1531.2 476.5L1543.8 489M1543.8 476.5L1531.2 489"/><path d="M1538.8 476.8L1551.2 489.2M1551.2 476.8L1538.8 489.2"/></g>
<polyline points="926,830 934,848 941.2,847.8 948.4,847.6 955.6,847.4 962.8,847.2 970,847 977.5,844.5 985,842 992.5,841 1000,840 1006.7,840.3 1013.3,840.7 1020,841 1027,842 1034,843 1040,844 1048.2,800.3 1055.4,739.4 1064.4,635 1072.6,574.2 1078.5,484.5 1086.2,485 1093.8,483.9 1101.5,483.9 1109.2,484.7 1116.9,483.7 1124.5,485.1 1132.2,485.1 1139.9,483.6 1147.5,484.9 1155.2,484.6 1162.9,484.9 1170.6,485.5 1178.2,485.6 1185.9,484.4 1193.6,485.3 1201.2,485.2 1208.9,485.6 1216.6,483.7 1224.2,485.5 1231.9,484.1 1239.6,483.9 1247.3,484.9 1254.9,485.4 1262.6,485.6 1270.3,484.4 1277.9,485.4 1285.6,483.8 1293.3,485.7 1301,484.3 1308.6,484.8 1316.3,484 1324,483.8 1331.6,483.8 1339.3,485 1347,484.9 1354.7,485.4 1362.3,485.5 1370,484.8 1376.7,487.7 1383.3,491.6 1390,494 1397.5,494.7 1405,497.3 1412.5,497.3 1420,499 1427.5,499.9 1435,498.8 1442.5,498.9 1450,499 1457.5,498.1 1465,498.1 1472.5,499.1 1480,499 1487.2,499.7 1494.4,498.5 1501.7,499.5 1508.9,499.6 1516.1,500.7 1523.3,501.3 1530.6,499.7 1537.8,500.9 1545,501" fill="none" stroke="#3D6AC0" stroke-width="4.5" stroke-linejoin="round" stroke-linecap="round" /><g fill="#4070C0" stroke="#2E5DB5" stroke-width="1" stroke-linejoin="miter"><circle cx="926" cy="830" r="6.8"/><circle cx="934" cy="848" r="6.8"/><circle cx="941.2" cy="847.8" r="6.8"/><circle cx="948.4" cy="847.6" r="6.8"/><circle cx="955.6" cy="847.4" r="6.8"/><circle cx="962.8" cy="847.2" r="6.8"/><circle cx="970" cy="847" r="6.8"/><circle cx="977.5" cy="844.5" r="6.8"/><circle cx="985" cy="842" r="6.8"/><circle cx="992.5" cy="841" r="6.8"/><circle cx="1000" cy="840" r="6.8"/><circle cx="1006.7" cy="840.3" r="6.8"/><circle cx="1013.3" cy="840.7" r="6.8"/><circle cx="1020" cy="841" r="6.8"/><circle cx="1027" cy="842" r="6.8"/><circle cx="1034" cy="843" r="6.8"/><circle cx="1040" cy="844" r="6.8"/><circle cx="1048.2" cy="800.3" r="6.8"/><circle cx="1055.4" cy="739.4" r="6.8"/><circle cx="1064.4" cy="635" r="6.8"/><circle cx="1072.6" cy="574.2" r="6.8"/><circle cx="1078.5" cy="484.5" r="6.8"/><circle cx="1086.2" cy="485" r="6.8"/><circle cx="1093.8" cy="483.9" r="6.8"/><circle cx="1101.5" cy="483.9" r="6.8"/><circle cx="1109.2" cy="484.7" r="6.8"/><circle cx="1116.9" cy="483.7" r="6.8"/><circle cx="1124.5" cy="485.1" r="6.8"/><circle cx="1132.2" cy="485.1" r="6.8"/><circle cx="1139.9" cy="483.6" r="6.8"/><circle cx="1147.5" cy="484.9" r="6.8"/><circle cx="1155.2" cy="484.6" r="6.8"/><circle cx="1162.9" cy="484.9" r="6.8"/><circle cx="1170.6" cy="485.5" r="6.8"/><circle cx="1178.2" cy="485.6" r="6.8"/><circle cx="1185.9" cy="484.4" r="6.8"/><circle cx="1193.6" cy="485.3" r="6.8"/><circle cx="1201.2" cy="485.2" r="6.8"/><circle cx="1208.9" cy="485.6" r="6.8"/><circle cx="1216.6" cy="483.7" r="6.8"/><circle cx="1224.2" cy="485.5" r="6.8"/><circle cx="1231.9" cy="484.1" r="6.8"/><circle cx="1239.6" cy="483.9" r="6.8"/><circle cx="1247.3" cy="484.9" r="6.8"/><circle cx="1254.9" cy="485.4" r="6.8"/><circle cx="1262.6" cy="485.6" r="6.8"/><circle cx="1270.3" cy="484.4" r="6.8"/><circle cx="1277.9" cy="485.4" r="6.8"/><circle cx="1285.6" cy="483.8" r="6.8"/><circle cx="1293.3" cy="485.7" r="6.8"/><circle cx="1301" cy="484.3" r="6.8"/><circle cx="1308.6" cy="484.8" r="6.8"/><circle cx="1316.3" cy="484" r="6.8"/><circle cx="1324" cy="483.8" r="6.8"/><circle cx="1331.6" cy="483.8" r="6.8"/><circle cx="1339.3" cy="485" r="6.8"/><circle cx="1347" cy="484.9" r="6.8"/><circle cx="1354.7" cy="485.4" r="6.8"/><circle cx="1362.3" cy="485.5" r="6.8"/><circle cx="1370" cy="484.8" r="6.8"/><circle cx="1376.7" cy="487.7" r="6.8"/><circle cx="1383.3" cy="491.6" r="6.8"/><circle cx="1390" cy="494" r="6.8"/><circle cx="1397.5" cy="494.7" r="6.8"/><circle cx="1405" cy="497.3" r="6.8"/><circle cx="1412.5" cy="497.3" r="6.8"/><circle cx="1420" cy="499" r="6.8"/><circle cx="1427.5" cy="499.9" r="6.8"/><circle cx="1435" cy="498.8" r="6.8"/><circle cx="1442.5" cy="498.9" r="6.8"/><circle cx="1450" cy="499" r="6.8"/><circle cx="1457.5" cy="498.1" r="6.8"/><circle cx="1465" cy="498.1" r="6.8"/><circle cx="1472.5" cy="499.1" r="6.8"/><circle cx="1480" cy="499" r="6.8"/><circle cx="1487.2" cy="499.7" r="6.8"/><circle cx="1494.4" cy="498.5" r="6.8"/><circle cx="1501.7" cy="499.5" r="6.8"/><circle cx="1508.9" cy="499.6" r="6.8"/><circle cx="1516.1" cy="500.7" r="6.8"/><circle cx="1523.3" cy="501.3" r="6.8"/><circle cx="1530.6" cy="499.7" r="6.8"/><circle cx="1537.8" cy="500.9" r="6.8"/><circle cx="1545" cy="501" r="6.8"/></g>
<polyline points="927,823 934,848 941.5,847.8 949,847.7 956.5,847.5 964,847.3 971.5,847.2 979,847 986.5,846.8 994,846.7 1001.5,846.5 1009,846.3 1016.5,846.2 1024,846 1032,843 1040,836 1048,810 1054,760 1056,700 1058,640 1060,580 1063.3,544.3 1068.5,507.1 1072,497 1075.7,492.7 1081,485 1088.7,484.7 1096.3,484.7 1104,485 1111.7,484.1 1119.3,483.9 1127,484.8 1134.7,484.2 1142.3,484.2 1150,484.8 1157.7,484 1165.3,484.9 1173,484.3 1180.7,483.8 1188.3,484.8 1196,484.4 1203.7,483.8 1211.3,484.7 1219,484.6 1226.7,484.5 1234.3,484.4 1242,484.8 1249.7,483.6 1257.3,484.8 1265,484.4 1272.7,483.9 1280.3,484.3 1288,484 1295.7,484.3 1303.3,484.4 1311,484.1 1318.7,483.6 1326.3,484 1334,483.8 1341.7,484.4 1349.3,484.6 1357,484.4 1364.7,484.1 1372.3,483.6 1380,484 1387.5,484.1 1395,483.4 1402.5,484.1 1410,483 1417.5,483.8 1425,482.5 1432.5,483.2 1440,482.5 1447.5,482.7 1455,482.3 1462.5,482 1470,482 1477.5,482.3 1485,481.6 1492.5,481.4 1500,481.8 1507.5,480.9 1515,481 1522.5,481 1530,480.8 1537.5,480.3 1545,480.5" fill="none" stroke="#3D6AC0" stroke-width="4.5" stroke-linejoin="round" stroke-linecap="round" /><g fill="none" stroke="#3D6AC0" stroke-width="2"><path d="M920.8 816.8L933.2 829.2M933.2 816.8L920.8 829.2"/><path d="M927.8 841.8L940.2 854.2M940.2 841.8L927.8 854.2"/><path d="M935.2 841.6L947.8 854.1M947.8 841.6L935.2 854.1"/><path d="M942.8 841.4L955.2 853.9M955.2 841.4L942.8 853.9"/><path d="M950.2 841.2L962.8 853.8M962.8 841.2L950.2 853.8"/><path d="M957.8 841.1L970.2 853.6M970.2 841.1L957.8 853.6"/><path d="M965.2 840.9L977.8 853.4M977.8 840.9L965.2 853.4"/><path d="M972.8 840.8L985.2 853.2M985.2 840.8L972.8 853.2"/><path d="M980.2 840.6L992.8 853.1M992.8 840.6L980.2 853.1"/><path d="M987.8 840.4L1000.2 852.9M1000.2 840.4L987.8 852.9"/><path d="M995.2 840.2L1007.8 852.8M1007.8 840.2L995.2 852.8"/><path d="M1002.8 840.1L1015.2 852.6M1015.2 840.1L1002.8 852.6"/><path d="M1010.2 839.9L1022.8 852.4M1022.8 839.9L1010.2 852.4"/><path d="M1017.8 839.8L1030.2 852.2M1030.2 839.8L1017.8 852.2"/><path d="M1025.8 836.8L1038.2 849.2M1038.2 836.8L1025.8 849.2"/><path d="M1033.8 829.8L1046.2 842.2M1046.2 829.8L1033.8 842.2"/><path d="M1041.8 803.8L1054.2 816.2M1054.2 803.8L1041.8 816.2"/><path d="M1049.8 693.8L1062.2 706.2M1062.2 693.8L1049.8 706.2"/><path d="M1057 538L1069.5 550.5M1069.5 538L1057 550.5"/><path d="M1062.2 500.9L1074.8 513.4M1074.8 500.9L1062.2 513.4"/><path d="M1069.5 486.4L1082 498.9M1082 486.4L1069.5 498.9"/><path d="M1082.4 478.4L1094.9 490.9M1094.9 478.4L1082.4 490.9"/><path d="M1090.1 478.5L1102.6 491M1102.6 478.5L1090.1 491"/><path d="M1097.8 478.8L1110.2 491.3M1110.2 478.8L1097.8 491.3"/><path d="M1105.4 477.8L1117.9 490.3M1117.9 477.8L1105.4 490.3"/><path d="M1113.1 477.7L1125.6 490.2M1125.6 477.7L1113.1 490.2"/><path d="M1120.8 478.6L1133.2 491.1M1133.2 478.6L1120.8 491.1"/><path d="M1128.4 478L1140.9 490.5M1140.9 478L1128.4 490.5"/><path d="M1136.1 478L1148.6 490.5M1148.6 478L1136.1 490.5"/><path d="M1143.8 478.5L1156.2 491M1156.2 478.5L1143.8 491"/><path d="M1151.4 477.7L1163.9 490.2M1163.9 477.7L1151.4 490.2"/><path d="M1159.1 478.6L1171.6 491.1M1171.6 478.6L1159.1 491.1"/><path d="M1166.8 478.1L1179.2 490.6M1179.2 478.1L1166.8 490.6"/><path d="M1174.4 477.6L1186.9 490.1M1186.9 477.6L1174.4 490.1"/><path d="M1182.1 478.6L1194.6 491.1M1194.6 478.6L1182.1 491.1"/><path d="M1189.8 478.1L1202.2 490.6M1202.2 478.1L1189.8 490.6"/><path d="M1197.4 477.5L1209.9 490M1209.9 477.5L1197.4 490"/><path d="M1205.1 478.4L1217.6 490.9M1217.6 478.4L1205.1 490.9"/><path d="M1212.8 478.3L1225.2 490.8M1225.2 478.3L1212.8 490.8"/><path d="M1220.4 478.3L1232.9 490.8M1232.9 478.3L1220.4 490.8"/><path d="M1228.1 478.2L1240.6 490.7M1240.6 478.2L1228.1 490.7"/><path d="M1235.8 478.6L1248.2 491.1M1248.2 478.6L1235.8 491.1"/><path d="M1243.4 477.4L1255.9 489.9M1255.9 477.4L1243.4 489.9"/><path d="M1251.1 478.5L1263.6 491M1263.6 478.5L1251.1 491"/><path d="M1258.8 478.1L1271.2 490.6M1271.2 478.1L1258.8 490.6"/><path d="M1266.4 477.6L1278.9 490.1M1278.9 477.6L1266.4 490.1"/><path d="M1274.1 478.1L1286.6 490.6M1286.6 478.1L1274.1 490.6"/><path d="M1281.8 477.7L1294.2 490.2M1294.2 477.7L1281.8 490.2"/><path d="M1289.4 478.1L1301.9 490.6M1301.9 478.1L1289.4 490.6"/><path d="M1297.1 478.1L1309.6 490.6M1309.6 478.1L1297.1 490.6"/><path d="M1304.8 477.9L1317.2 490.4M1317.2 477.9L1304.8 490.4"/><path d="M1312.4 477.4L1324.9 489.9M1324.9 477.4L1312.4 489.9"/><path d="M1320.1 477.7L1332.6 490.2M1332.6 477.7L1320.1 490.2"/><path d="M1327.8 477.6L1340.2 490.1M1340.2 477.6L1327.8 490.1"/><path d="M1335.4 478.1L1347.9 490.6M1347.9 478.1L1335.4 490.6"/><path d="M1343.1 478.3L1355.6 490.8M1355.6 478.3L1343.1 490.8"/><path d="M1350.8 478.1L1363.2 490.6M1363.2 478.1L1350.8 490.6"/><path d="M1358.4 477.8L1370.9 490.3M1370.9 477.8L1358.4 490.3"/><path d="M1366.1 477.4L1378.6 489.9M1378.6 477.4L1366.1 489.9"/><path d="M1373.8 477.8L1386.2 490.2M1386.2 477.8L1373.8 490.2"/><path d="M1381.2 477.8L1393.8 490.3M1393.8 477.8L1381.2 490.3"/><path d="M1388.8 477.1L1401.2 489.6M1401.2 477.1L1388.8 489.6"/><path d="M1396.2 477.9L1408.8 490.4M1408.8 477.9L1396.2 490.4"/><path d="M1403.8 476.7L1416.2 489.2M1416.2 476.7L1403.8 489.2"/><path d="M1411.2 477.5L1423.8 490M1423.8 477.5L1411.2 490"/><path d="M1418.8 476.2L1431.2 488.7M1431.2 476.2L1418.8 488.7"/><path d="M1426.2 477L1438.8 489.5M1438.8 477L1426.2 489.5"/><path d="M1433.8 476.3L1446.2 488.8M1446.2 476.3L1433.8 488.8"/><path d="M1441.2 476.4L1453.8 488.9M1453.8 476.4L1441.2 488.9"/><path d="M1448.8 476.1L1461.2 488.6M1461.2 476.1L1448.8 488.6"/><path d="M1456.2 475.8L1468.8 488.3M1468.8 475.8L1456.2 488.3"/><path d="M1463.8 475.8L1476.2 488.3M1476.2 475.8L1463.8 488.3"/><path d="M1471.2 476.1L1483.8 488.6M1483.8 476.1L1471.2 488.6"/><path d="M1478.8 475.3L1491.2 487.8M1491.2 475.3L1478.8 487.8"/><path d="M1486.2 475.2L1498.8 487.7M1498.8 475.2L1486.2 487.7"/><path d="M1493.8 475.5L1506.2 488M1506.2 475.5L1493.8 488"/><path d="M1501.2 474.7L1513.8 487.2M1513.8 474.7L1501.2 487.2"/><path d="M1508.8 474.7L1521.2 487.2M1521.2 474.7L1508.8 487.2"/><path d="M1516.2 474.7L1528.8 487.2M1528.8 474.7L1516.2 487.2"/><path d="M1523.8 474.6L1536.2 487.1M1536.2 474.6L1523.8 487.1"/><path d="M1531.2 474L1543.8 486.5M1543.8 474L1531.2 486.5"/><path d="M1538.8 474.2L1551.2 486.8M1551.2 474.2L1538.8 486.8"/></g>
<polyline points="928,849.5 935.6,848.9 943.2,848.9 950.9,849.6 958.5,848.9 966.1,848.9 973.7,849.4 981.3,849.3 988.9,848.9 996.6,849.2 1004.2,849.9 1011.8,848.8 1019.4,848.9 1027,848.6 1034.6,848.9 1042.3,848.7 1049.9,850.1 1057.5,849 1065.1,850.1 1072.7,848.7 1080.3,849.9 1088,849.3 1095.6,849.5 1103.2,849.5 1110.8,848.8 1118.4,848.8 1126,849.5 1133.7,848.6 1141.3,848.4 1148.9,849.6 1156.5,849.3 1164.1,848.7 1171.8,849.1 1179.4,849.7 1187,848.7 1194.6,848.5 1202.2,848.9 1209.8,848.5 1217.5,848.8 1225.1,848.3 1232.7,849.4 1240.3,849.5 1247.9,848.8 1255.5,848.8 1263.2,848.6 1270.8,849.7 1278.4,849.5 1286,849.2 1293.6,848.4 1301.2,848.4 1308.9,849.3 1316.5,848.4 1324.1,849.2 1331.7,848.7 1339.3,848.1 1347,848.3 1354.6,849.5 1362.2,848.5 1369.8,849.1 1377.4,849.2 1385,848.6 1392.7,848.7 1400.3,849.3 1407.9,849.1 1415.5,848.7 1423.1,848.8 1430.7,848.6 1438.4,848.6 1446,848.9 1453.6,848.2 1461.2,849.2 1468.8,848.3 1476.4,848.2 1484.1,849.3 1491.7,847.8 1499.3,848.4 1506.9,848.6 1514.5,848.5 1522.1,849.1 1529.8,848.8 1537.4,848.5 1545,848.5" fill="none" stroke="#203864" stroke-width="4.5" stroke-linejoin="round" stroke-linecap="round" /><g fill="#264478" stroke="#1F3A6C" stroke-width="1" stroke-linejoin="miter"><circle cx="928" cy="849.5" r="6.8"/><circle cx="935.6" cy="848.9" r="6.8"/><circle cx="943.2" cy="848.9" r="6.8"/><circle cx="950.9" cy="849.6" r="6.8"/><circle cx="958.5" cy="848.9" r="6.8"/><circle cx="966.1" cy="848.9" r="6.8"/><circle cx="973.7" cy="849.4" r="6.8"/><circle cx="981.3" cy="849.3" r="6.8"/><circle cx="988.9" cy="848.9" r="6.8"/><circle cx="996.6" cy="849.2" r="6.8"/><circle cx="1004.2" cy="849.9" r="6.8"/><circle cx="1011.8" cy="848.8" r="6.8"/><circle cx="1019.4" cy="848.9" r="6.8"/><circle cx="1027" cy="848.6" r="6.8"/><circle cx="1034.6" cy="848.9" r="6.8"/><circle cx="1042.3" cy="848.7" r="6.8"/><circle cx="1049.9" cy="850.1" r="6.8"/><circle cx="1057.5" cy="849" r="6.8"/><circle cx="1065.1" cy="850.1" r="6.8"/><circle cx="1072.7" cy="848.7" r="6.8"/><circle cx="1080.3" cy="849.9" r="6.8"/><circle cx="1088" cy="849.3" r="6.8"/><circle cx="1095.6" cy="849.5" r="6.8"/><circle cx="1103.2" cy="849.5" r="6.8"/><circle cx="1110.8" cy="848.8" r="6.8"/><circle cx="1118.4" cy="848.8" r="6.8"/><circle cx="1126" cy="849.5" r="6.8"/><circle cx="1133.7" cy="848.6" r="6.8"/><circle cx="1141.3" cy="848.4" r="6.8"/><circle cx="1148.9" cy="849.6" r="6.8"/><circle cx="1156.5" cy="849.3" r="6.8"/><circle cx="1164.1" cy="848.7" r="6.8"/><circle cx="1171.8" cy="849.1" r="6.8"/><circle cx="1179.4" cy="849.7" r="6.8"/><circle cx="1187" cy="848.7" r="6.8"/><circle cx="1194.6" cy="848.5" r="6.8"/><circle cx="1202.2" cy="848.9" r="6.8"/><circle cx="1209.8" cy="848.5" r="6.8"/><circle cx="1217.5" cy="848.8" r="6.8"/><circle cx="1225.1" cy="848.3" r="6.8"/><circle cx="1232.7" cy="849.4" r="6.8"/><circle cx="1240.3" cy="849.5" r="6.8"/><circle cx="1247.9" cy="848.8" r="6.8"/><circle cx="1255.5" cy="848.8" r="6.8"/><circle cx="1263.2" cy="848.6" r="6.8"/><circle cx="1270.8" cy="849.7" r="6.8"/><circle cx="1278.4" cy="849.5" r="6.8"/><circle cx="1286" cy="849.2" r="6.8"/><circle cx="1293.6" cy="848.4" r="6.8"/><circle cx="1301.2" cy="848.4" r="6.8"/><circle cx="1308.9" cy="849.3" r="6.8"/><circle cx="1316.5" cy="848.4" r="6.8"/><circle cx="1324.1" cy="849.2" r="6.8"/><circle cx="1331.7" cy="848.7" r="6.8"/><circle cx="1339.3" cy="848.1" r="6.8"/><circle cx="1347" cy="848.3" r="6.8"/><circle cx="1354.6" cy="849.5" r="6.8"/><circle cx="1362.2" cy="848.5" r="6.8"/><circle cx="1369.8" cy="849.1" r="6.8"/><circle cx="1377.4" cy="849.2" r="6.8"/><circle cx="1385" cy="848.6" r="6.8"/><circle cx="1392.7" cy="848.7" r="6.8"/><circle cx="1400.3" cy="849.3" r="6.8"/><circle cx="1407.9" cy="849.1" r="6.8"/><circle cx="1415.5" cy="848.7" r="6.8"/><circle cx="1423.1" cy="848.8" r="6.8"/><circle cx="1430.7" cy="848.6" r="6.8"/><circle cx="1438.4" cy="848.6" r="6.8"/><circle cx="1446" cy="848.9" r="6.8"/><circle cx="1453.6" cy="848.2" r="6.8"/><circle cx="1461.2" cy="849.2" r="6.8"/><circle cx="1468.8" cy="848.3" r="6.8"/><circle cx="1476.4" cy="848.2" r="6.8"/><circle cx="1484.1" cy="849.3" r="6.8"/><circle cx="1491.7" cy="847.8" r="6.8"/><circle cx="1499.3" cy="848.4" r="6.8"/><circle cx="1506.9" cy="848.6" r="6.8"/><circle cx="1514.5" cy="848.5" r="6.8"/><circle cx="1522.1" cy="849.1" r="6.8"/><circle cx="1529.8" cy="848.8" r="6.8"/><circle cx="1537.4" cy="848.5" r="6.8"/><circle cx="1545" cy="848.5" r="6.8"/></g>
<text textLength="26.06" lengthAdjust="spacingAndGlyphs" x="130.8" y="170.6" font-size="43" font-weight="bold" fill="#000" text-anchor="start" >A</text>
<text textLength="168.23" lengthAdjust="spacingAndGlyphs" x="397" y="779.3" font-size="32.7" font-weight="normal" fill="#000" text-anchor="middle" >Time (hours)</text>
<text textLength="399.52" lengthAdjust="spacingAndGlyphs" transform="translate(22.9 471.4) rotate(-90)" font-size="32.8" text-anchor="middle" fill="#000">% Maximum ThT fluorescence</text>
<text textLength="218.89" lengthAdjust="spacingAndGlyphs" x="211.6" y="130.6" font-size="32.6" font-weight="bold" fill="#D4522A" text-anchor="start" >CLINICAL ONSET</text>
<text textLength="161.02" lengthAdjust="spacingAndGlyphs" x="214.8" y="168.6" font-size="32.6" font-weight="bold" fill="#D6582C" text-anchor="start" >G6 1262 dpi</text>
<text textLength="161.02" lengthAdjust="spacingAndGlyphs" x="214.8" y="207.2" font-size="32.6" font-weight="bold" fill="#E8720F" text-anchor="start" >G7 1333 dpi</text>
<text textLength="161.02" lengthAdjust="spacingAndGlyphs" x="220" y="256.3" font-size="32.6" font-weight="bold" fill="#C00000" text-anchor="start" >G5 1500 dpi</text>
<text textLength="311.48" lengthAdjust="spacingAndGlyphs" x="448.6" y="177.3" font-size="32.3" font-weight="bold" fill="#1F4E79" text-anchor="start" >ASYMPTOMATIC STAGE</text>
<text textLength="144.52" lengthAdjust="spacingAndGlyphs" x="444.5" y="207.3" font-size="32.6" font-weight="bold" fill="#1F4E79" text-anchor="start" >G7 926 dpi</text>
<text textLength="144.52" lengthAdjust="spacingAndGlyphs" x="445.5" y="275.4" font-size="32.6" font-weight="bold" fill="#3A67A3" text-anchor="start" >G5 926 dpi</text>
<text textLength="144.52" lengthAdjust="spacingAndGlyphs" x="461.5" y="413.7" font-size="32.6" font-weight="bold" fill="#2E75B6" text-anchor="start" >G6 926 dpi</text>
<text textLength="178.58" lengthAdjust="spacingAndGlyphs" x="584" y="587.8" font-size="32.6" font-weight="bold" fill="#000" text-anchor="start" >Negative CTR</text>
<text textLength="24.11" lengthAdjust="spacingAndGlyphs" x="943" y="52.3" font-size="43" font-weight="bold" fill="#000" text-anchor="start" >B</text>
<text textLength="161.02" lengthAdjust="spacingAndGlyphs" x="911.2" y="22.9" font-size="32.6" font-weight="bold" fill="#E8720F" text-anchor="start" >G7 1333 dpi</text>
<text textLength="396.84" lengthAdjust="spacingAndGlyphs" transform="translate(836.6 454.2) rotate(-90)" font-size="32.6" text-anchor="middle" fill="#000">% Maximum ThT fluorescence</text>
<text textLength="58.56" lengthAdjust="spacingAndGlyphs" x="1550" y="33.2" font-size="29.0" font-weight="normal" fill="#000" text-anchor="start" >15 µl</text>
<text textLength="91.98" lengthAdjust="spacingAndGlyphs" x="1550.8" y="57.9" font-size="28" font-weight="normal" fill="#000" text-anchor="start" xml:space="preserve">7,5  -0,9</text>
<text textLength="87.05" lengthAdjust="spacingAndGlyphs" x="1551" y="99.2" font-size="29.0" font-weight="normal" fill="#000" text-anchor="start" xml:space="preserve">0,46  µl</text>
<text textLength="58.56" lengthAdjust="spacingAndGlyphs" x="1177.5" y="81" font-size="29.0" font-weight="normal" fill="#000" text-anchor="start" >20 µl</text>
<text textLength="192.44" lengthAdjust="spacingAndGlyphs" x="1566" y="367.5" font-size="29.0" font-weight="normal" fill="#000" text-anchor="end" >G7 1333 dpi 0 µl</text>
<text textLength="232.84" lengthAdjust="spacingAndGlyphs" x="1567.5" y="408" font-size="29.0" font-weight="normal" fill="#000" text-anchor="end" >Negative CTRL 15 µl</text>
<text textLength="23.20" lengthAdjust="spacingAndGlyphs" x="941.5" y="514" font-size="43.5" font-weight="normal" fill="#000" text-anchor="start" >C</text>
<text textLength="144.52" lengthAdjust="spacingAndGlyphs" x="926" y="487.6" font-size="32.6" font-weight="bold" fill="#1F4E79" text-anchor="start" >G7 926 dpi</text>
<text textLength="168.23" lengthAdjust="spacingAndGlyphs" x="1267.5" y="963.5" font-size="32.7" font-weight="normal" fill="#000" text-anchor="middle" >Time (hours)</text>
<text textLength="74.92" lengthAdjust="spacingAndGlyphs" x="1554.5" y="486" font-size="29.0" font-weight="normal" fill="#000" text-anchor="start" >15-7,5</text>
<text textLength="80.50" lengthAdjust="spacingAndGlyphs" x="1555.5" y="520" font-size="29.0" font-weight="normal" fill="#000" text-anchor="start" >3,75 µl</text>
<text textLength="95.27" lengthAdjust="spacingAndGlyphs" x="1552.5" y="551" font-size="29.0" font-weight="normal" fill="#000" text-anchor="start" >1,8 - 0,9</text>
<text textLength="87.05" lengthAdjust="spacingAndGlyphs" x="1548" y="633.5" font-size="29.0" font-weight="normal" fill="#000" text-anchor="start" xml:space="preserve">0,46  µl</text>
<text textLength="58.56" lengthAdjust="spacingAndGlyphs" x="1158" y="521" font-size="29.0" font-weight="normal" fill="#000" text-anchor="start" >20 µl</text>
<text textLength="177.75" lengthAdjust="spacingAndGlyphs" x="1555.5" y="829.2" font-size="29.0" font-weight="normal" fill="#000" text-anchor="end" >G7 926 dpi 0 µl</text>
<text textLength="232.84" lengthAdjust="spacingAndGlyphs" x="1555.5" y="877" font-size="29.0" font-weight="normal" fill="#000" text-anchor="end" >Negative CTRL 15 µl</text>
</svg>
</body></html>
